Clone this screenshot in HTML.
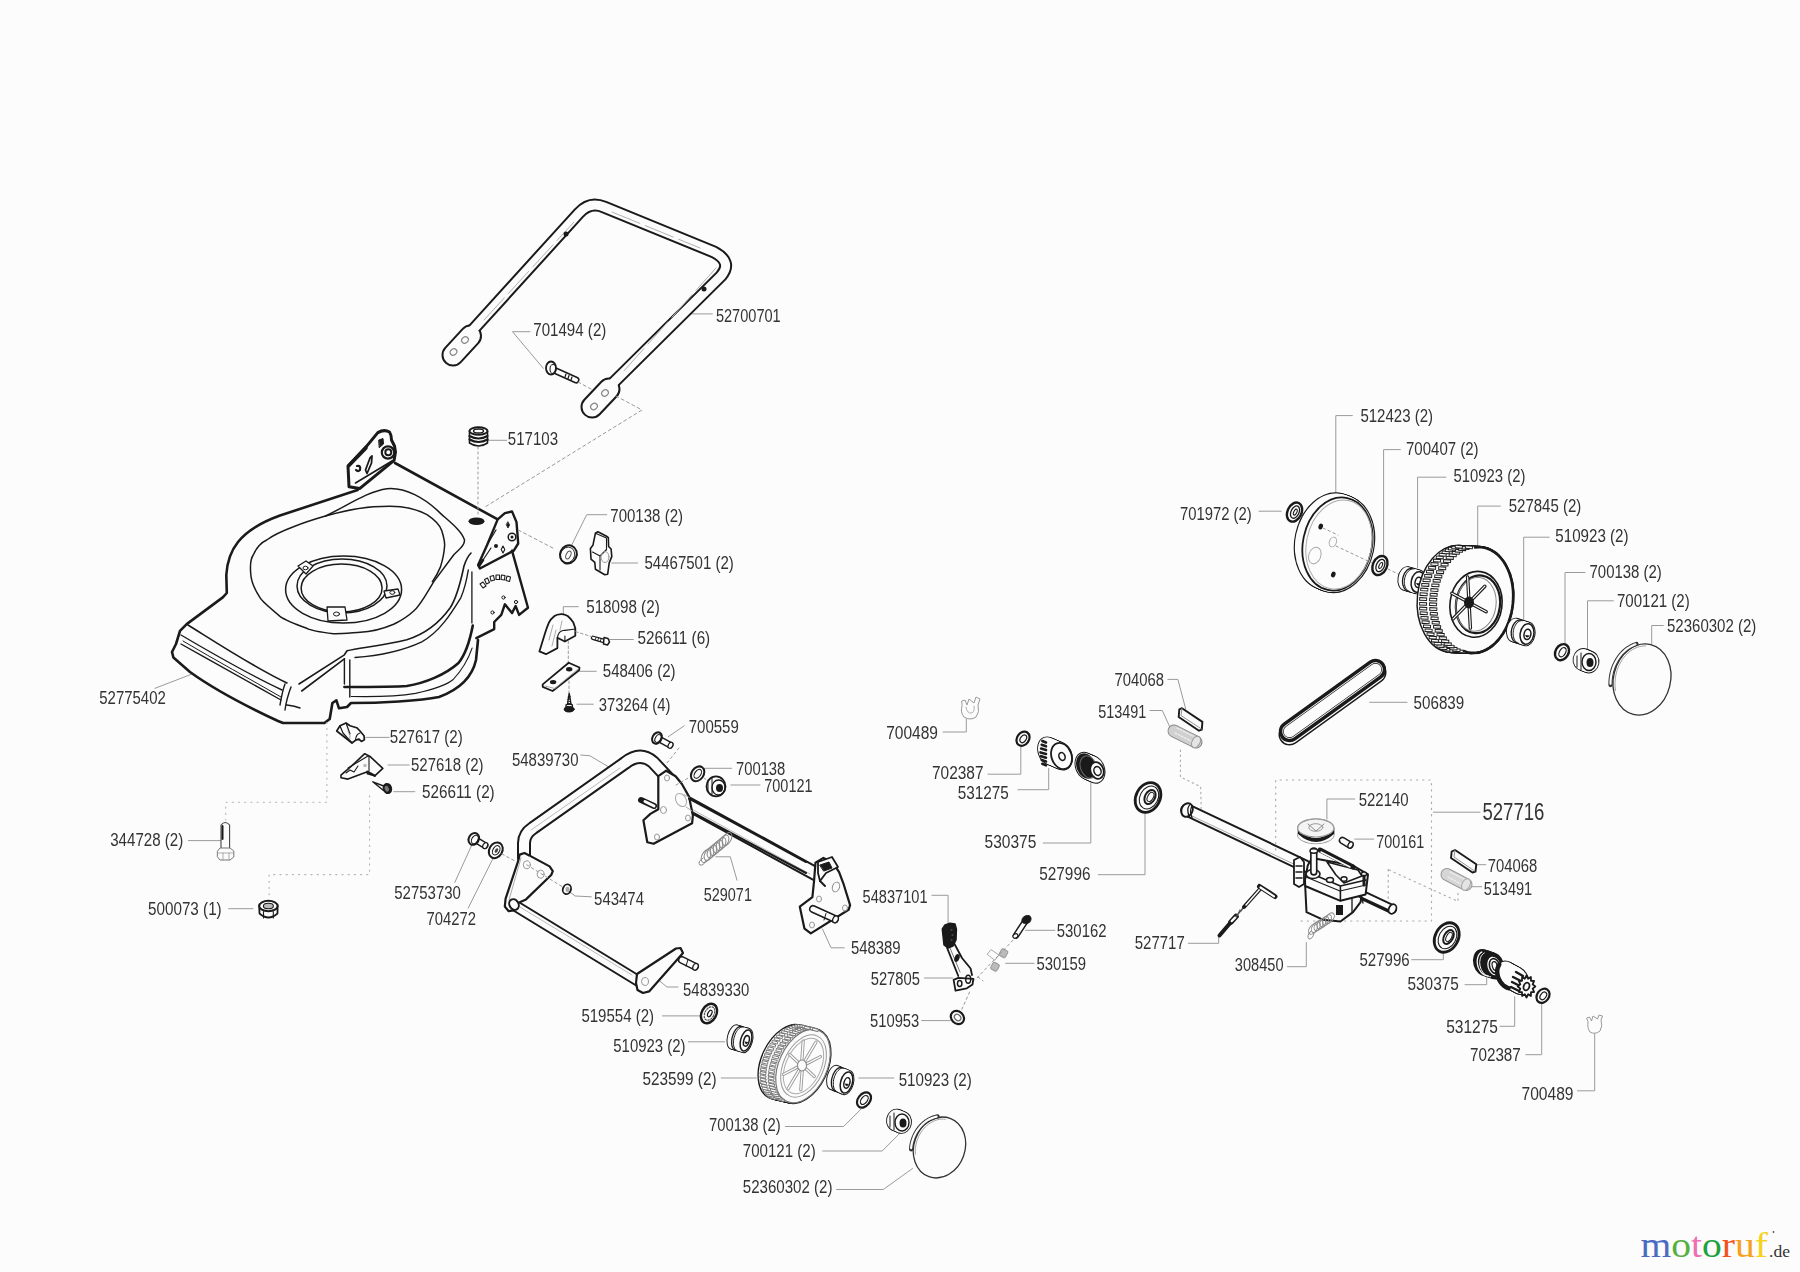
<!DOCTYPE html>
<html><head><meta charset="utf-8"><style>
html,body{margin:0;padding:0;background:#fcfcfc;}
svg{display:block;}
</style></head><body>
<svg width="1800" height="1272" viewBox="0 0 1800 1272" stroke-linejoin="round" stroke-linecap="round">
<rect width="1800" height="1272" fill="#fcfcfc"/>
<g fill="none" stroke="#9a9a9a" stroke-width="1">
<polyline points="686.3,313.9 712.3,313.9"/>
<polyline points="530.0,331.7 512.5,331.7 543.3,368.3"/>
<polyline points="488.3,440.3 506.7,440.3"/>
<polyline points="571.7,545.0 586.7,514.7 606.7,514.7"/>
<polyline points="611.7,563.0 637.5,563.0"/>
<polyline points="578.3,606.7 563.3,606.7 563.3,615.0"/>
<polyline points="609.2,639.5 633.3,639.5"/>
<polyline points="579.7,671.3 596.3,671.3"/>
<polyline points="577.0,704.2 593.3,704.2"/>
<polyline points="668.3,736.7 684.2,725.8"/>
<polyline points="580.8,755.0 590.0,755.8 608.3,766.7"/>
<polyline points="704.2,768.3 731.7,768.3"/>
<polyline points="730.8,785.0 760.0,785.0"/>
<polyline points="155.0,688.3 191.1,674.4"/>
<polyline points="365.8,737.4 389.2,737.4"/>
<polyline points="388.1,765.0 409.2,765.0"/>
<polyline points="393.7,791.7 414.8,791.7"/>
<polyline points="188.5,840.6 221.2,840.6"/>
<polyline points="228.6,908.7 253.0,908.7"/>
<polyline points="454.8,882.4 471.5,845.7"/>
<polyline points="468.2,908.0 492.7,859.0"/>
<polyline points="569.0,891.3 575.0,896.0 591.3,896.8"/>
<polyline points="737.0,880.2 730.3,856.8 715.8,856.8"/>
<polyline points="653.5,975.8 666.9,987.0 678.0,987.0"/>
<polyline points="662.4,1015.9 700.3,1015.9"/>
<polyline points="688.5,1041.8 724.7,1041.8"/>
<polyline points="721.2,1078.0 756.2,1078.0"/>
<polyline points="858.8,1078.0 893.8,1078.0"/>
<polyline points="785.3,1126.5 843.6,1126.5 861.1,1109.0"/>
<polyline points="822.7,1151.0 882.2,1151.0 899.6,1133.5"/>
<polyline points="836.6,1189.5 883.3,1189.5 912.5,1168.5"/>
<polyline points="921.7,1020.6 950.0,1020.6"/>
<polyline points="932.0,895.3 948.1,895.3 948.1,924.2"/>
<polyline points="822.5,929.0 831.0,947.8 844.2,947.8"/>
<polyline points="924.5,978.0 952.8,978.0"/>
<polyline points="1025.6,930.3 1054.8,930.3"/>
<polyline points="1005.7,963.3 1034.1,963.3"/>
<polyline points="1098.3,874.7 1145.0,874.7 1145.0,812.5"/>
<polyline points="1043.3,843.0 1090.8,843.0 1090.8,781.7"/>
<polyline points="1018.0,789.7 1048.7,789.7 1048.7,768.3"/>
<polyline points="988.0,774.2 1020.8,774.2 1020.8,745.8"/>
<polyline points="943.0,732.0 966.3,732.0 966.3,719.2"/>
<polyline points="1167.9,679.4 1177.9,679.4 1185.7,709.0"/>
<polyline points="1150.0,710.5 1162.3,710.5 1171.2,730.0"/>
<polyline points="1369.6,702.3 1407.0,702.3"/>
<polyline points="1354.7,799.0 1326.9,799.0 1326.9,819.0"/>
<polyline points="1354.7,839.1 1373.6,839.1"/>
<polyline points="1433.3,812.2 1480.0,812.2"/>
<polyline points="1476.3,864.7 1485.8,864.7"/>
<polyline points="1470.0,886.7 1481.7,886.7"/>
<polyline points="1188.3,943.3 1218.7,943.3 1218.7,936.7"/>
<polyline points="1287.5,966.7 1306.3,966.7 1306.3,942.5"/>
<polyline points="1411.7,959.7 1443.3,959.7 1443.3,953.3"/>
<polyline points="1465.0,984.7 1486.7,984.7 1486.7,976.7"/>
<polyline points="1500.0,1026.3 1514.7,1026.3 1514.7,996.7"/>
<polyline points="1525.8,1054.7 1541.7,1054.7 1541.7,1003.3"/>
<polyline points="1577.5,1090.8 1594.7,1090.8 1594.7,1034.2"/>
<polyline points="1352.4,415.6 1335.8,415.6 1335.8,494.6"/>
<polyline points="1400.3,449.6 1383.6,449.6 1383.6,554.6"/>
<polyline points="1445.9,477.2 1417.6,477.2 1417.6,568.0"/>
<polyline points="1500.4,506.1 1477.7,506.1 1477.7,548.0"/>
<polyline points="1549.2,537.2 1523.7,537.2 1523.7,620.0"/>
<polyline points="1585.0,572.5 1565.0,572.5 1565.0,644.2"/>
<polyline points="1613.3,600.8 1587.5,600.8 1587.5,651.7"/>
<polyline points="1663.3,625.5 1651.7,625.5 1651.7,644.2"/>
<polyline points="1259.0,511.2 1281.2,511.2"/>
</g>
<g id="handle" fill="none" stroke-linejoin="round" stroke-linecap="round">
 <path d="M 470 333 L 579 213 Q 590 201 604 207 L 714 252 Q 733 262 721 276 L 612 384" stroke="#1a1a1a" stroke-width="13"/>
 <path d="M 470.5 336 L 453 355" stroke="#1a1a1a" stroke-width="23"/>
 <path d="M 609 389 L 592 407" stroke="#1a1a1a" stroke-width="23"/>
 <path d="M 470 333 L 579 213 Q 590 201 604 207 L 714 252 Q 733 262 721 276 L 612 384" stroke="#fcfcfc" stroke-width="9"/>
 <path d="M 470.5 336 L 453 355" stroke="#fcfcfc" stroke-width="19"/>
 <path d="M 609 389 L 592 407" stroke="#fcfcfc" stroke-width="19"/>
 <path d="M 484 320 L 574 222 M 612 212 L 700 248 M 716 268 L 623 372" stroke="#b0b0b0" stroke-width="1" stroke-dasharray="30 6"/>
 <g stroke="#888" stroke-width="1.2">
  <ellipse cx="465" cy="340" rx="3.5" ry="3" transform="rotate(-40 465 340)"/>
  <ellipse cx="453.5" cy="352" rx="3.5" ry="3" transform="rotate(-40 453.5 352)"/>
  <ellipse cx="605" cy="393" rx="3.5" ry="3" transform="rotate(-40 605 393)"/>
  <ellipse cx="594" cy="406.5" rx="3.5" ry="3" transform="rotate(-40 594 406.5)"/>
 </g>
 <circle cx="566" cy="234" r="2.5" fill="#1a1a1a"/>
 <circle cx="704" cy="289" r="2.5" fill="#1a1a1a"/>
 <!-- bolt 701494 -->
 <path d="M 556 371 L 576 380" stroke="#1a1a1a" stroke-width="7"/>
 <path d="M 556 371 L 576 380" stroke="#fcfcfc" stroke-width="4"/>
 <path d="M 566 374 l -1 3 M 569 375.5 l -1 3 M 572 377 l -1 3" stroke="#1a1a1a" stroke-width="1.2"/>
 <ellipse cx="551" cy="368" rx="5" ry="6.5" fill="#fcfcfc" stroke="#1a1a1a" stroke-width="1.8"/>
 <ellipse cx="553" cy="369" rx="3" ry="4.5" fill="none" stroke="#1a1a1a" stroke-width="1"/>
 <g stroke="#999" stroke-width="1" stroke-dasharray="3 3">
  <path d="M 578 382 L 591 389 M 616 396 L 642 410 L 485 507"/>
 </g>
</g>

<g id="deck" fill="none" stroke="#1a1a1a" stroke-linejoin="round" stroke-linecap="round">
 <!-- outer thick outline: top-left edge, left side, front -->
 <path stroke-width="2.6" d="M 357.6 490 L 280 515.5 C 262 522 246 532 238 542 C 230 552 227 563 226.3 575 L 226.8 593 L 222.8 597.4 L 186.7 624.1 L 180 630.8 L 176 644 L 172 652 L 173.4 657.5 L 190 672 C 215 690 250 708 278 721 L 283 723 L 324.4 723 L 329.7 719 L 332.4 703 L 336.4 700.3 L 339 708.3 L 347 707 L 351 703 C 380 703 420 701 439 697 C 458 690 472 678 476 660 L 478 640"/>
 <!-- front lip lines -->
 <path stroke-width="1.6" d="M 188 625 C 220 645 255 668 287 683"/>
 <path stroke-width="1.4" d="M 181 635 C 215 655 250 675 282 690"/>
 <path stroke-width="1.4" d="M 181 644 C 215 663 250 683 281 700"/>
 <path stroke-width="1" d="M 183 641 C 215 660 250 679 281 697"/>
 <path stroke-width="1.4" d="M 285 684 C 282 692 281 700 280 705 M 291 687 C 288 695 286 702 285 710 M 287 705 Q 295 706 300 708"/>
 <!-- right front skirt -->
 <path stroke-width="1.6" d="M 299 684 L 344.4 654.8 L 347 650.8 C 360 648 385 645 406.8 639.8 C 425 634 440 622 450 608 C 458 596 462 575 464 566 C 466 560 468 556 471 553"/>
 <path stroke-width="1.6" d="M 301.7 691 L 344.4 658.8"/>
 <path stroke-width="1.4" d="M 344.4 658.8 L 344.4 684 M 349.8 660 L 349.8 697"/>
 <path stroke-width="2.6" d="M 344.4 687 C 370 687 395 687 406.8 686 C 425 683 445 675 458.5 663 C 466 654 470 640 472.8 625.6"/>
 <path stroke-width="1.4" d="M 355 657.5 C 375 656 400 652 421.8 641.8 C 440 632 452 612 460.8 597.8 C 465 588 467 578 468.3 570"/>
 <path stroke-width="1.1" d="M 351.3 696.5 C 375 697 400 696 415.5 693.4 C 435 689 448 684 453.2 679.5 C 462 670 468 660 472.1 648.1"/>
 <!-- inner volute contour -->
 <path stroke-width="1.5" d="M 325.5 516 C 345 507 368 491 387 488.7 C 405 487 425 498 440.5 513.4 C 450 522 462 531 464.5 540 C 465 546 458 550 453.8 554.8 L 433.8 581.6 C 425 596 420 606 413.7 611 C 405 619 398 622 393.7 624.3 C 380 630 370 632 360.3 632.3 C 350 633 340 634 333.5 633.7 C 320 632 310 630 306.8 628.3 C 295 624 285 620 280 616.3 C 270 608 262 601 260 597.6 C 255 590 251 580 250.7 573.5 C 250 565 251 558 253.4 554.8 C 256 548 262 542 266.7 540 C 275 534 285 530 293.5 526.8 C 305 522 315 519 325.5 516"/>
 <path stroke-width="1.5" d="M 325.5 516 C 340 512 355 508 373.6 506.7 C 385 506 395 506 400.4 506.7 C 412 508 420 511 427 514.7 C 435 520 440 525 441.8 530.8 C 444 538 445 544 444.5 546.8 C 444 555 442 562 440.5 566.9 C 438 573 435 578 432.4 581.6"/>
 <!-- top-right edge of deck -->
 <path stroke-width="2.6" d="M 395 463 L 497.7 519.4"/>
 <!-- ring -->
 <ellipse cx="343.6" cy="589.6" rx="58" ry="33.5" stroke-width="1.5"/>
 <ellipse cx="342" cy="586" rx="45" ry="27" stroke-width="1.5"/>
 <ellipse cx="341.6" cy="588" rx="40.5" ry="24" stroke-width="1.5"/>
 <g stroke-width="1.3" fill="#fcfcfc">
  <path d="M 298 566 L 306 561 L 313 566 L 306 574 Z"/>
  <path d="M 384 591 L 398 589 L 400 595 L 386 598 Z"/>
  <path d="M 327 607 L 345 607 L 347 620 L 328 621 Z"/>
 </g>
 <g fill="none" stroke-width="1">
  <ellipse cx="305.5" cy="568" rx="2.5" ry="1.8"/>
  <ellipse cx="392.3" cy="592.5" rx="2.5" ry="1.8"/>
  <ellipse cx="336.5" cy="614" rx="3" ry="2"/>
 </g>
 <!-- left rear bracket -->
 <path stroke-width="3" fill="#fcfcfc" d="M 348 466 L 366.5 446.4 L 377.8 432.6 Q 384 429 389.5 432 Q 391.5 435 391.5 440 L 394.5 446 L 395.5 452 L 394.1 460.3 L 359.6 488.6 L 349 486.7 Z"/>
 <path stroke-width="1.6" d="M 355.5 483 L 392 461"/>
 <circle cx="388" cy="452.5" r="6.2" stroke-width="2.2" fill="#fcfcfc"/>
 <circle cx="388.3" cy="452.2" r="3" stroke-width="2" fill="none"/>
 <path d="M 379 440 L 383 438.5 L 383.5 444 L 379.5 447.5 Z" fill="#1a1a1a" stroke-width="1"/>
 <path d="M 370 458 L 372 456 L 371.5 463 L 367 473.5 L 365.5 470 Z" fill="#fcfcfc" stroke-width="1.8"/>
 <path d="M 357 466 Q 361 465 360 470 Q 358 472 356 470" stroke-width="2.2"/>
 <path stroke-width="3.4" d="M 349 465.5 L 366 448"/>
<!-- right rear bracket -->
 <path stroke-width="2.4" fill="#fcfcfc" d="M 497.7 519.4 L 504.9 513.2 L 512 511.4 L 516.5 522.1 L 518.2 543.5 L 513.8 550.6 L 479.9 568.5 L 478.1 564.9 L 487 545.3 Z"/>
 <path stroke-width="2.4" d="M 512 550.6 L 528 607.7 L 519.1 614.9 L 515.6 606 L 512 613.1 L 504.9 604.2 L 501.3 614.9 L 494.2 622 L 494.2 629.1 L 476.3 638.1"/>
 <path stroke-width="1.3" d="M 471.9 572 L 471.9 622.9"/>
 <path stroke-width="1.2" d="M 487 545 L 496 530 M 483 560 L 491 548"/>
 <circle cx="512" cy="537" r="3.8" stroke-width="1.5"/>
 <circle cx="512" cy="537" r="1.5" fill="#1a1a1a" stroke="none"/>
 <path d="M 508 522 l 1.6 3 l -1.6 3 l -1.6 -3 Z" fill="#1a1a1a" stroke-width="0.8"/>
 <circle cx="496" cy="546" r="2" fill="#1a1a1a" stroke="none"/>
 <path d="M 503 546 l 1.8 3.5 l -1.8 3.5 l -1.8 -3.5 Z" stroke-width="1.1"/>
 <path stroke-width="2.6" d="M 479 566 L 483 560"/>
 <!-- scale teeth -->
 <g stroke-width="1.1" fill="#fcfcfc">
  <path d="M 483 588 l -3 -4 l 3 -2 l 3 4 Z"/>
  <path d="M 486.5 584 l -2 -4.5 l 3 -1.5 l 2 4.5 Z"/>
  <path d="M 491 581 l -1 -4.5 l 3.5 -1 l 1 4.5 Z"/>
  <path d="M 496 579.5 l 0 -4.5 l 3.5 0 l 0 4.5 Z"/>
  <path d="M 501 579.5 l 0.5 -4.5 l 3.5 0.5 l -0.5 4.5 Z"/>
  <path d="M 506 580.5 l 1 -4.5 l 3.5 1 l -1 4.5 Z"/>
 </g>
 <circle cx="503.5" cy="597.5" r="1.6" stroke-width="1"/>
 <circle cx="492.5" cy="612.5" r="1.6" stroke-width="1"/>
 <circle cx="516" cy="602" r="1.6" stroke-width="1"/>
 <!-- black hole -->
 <ellipse cx="476.5" cy="521.2" rx="8" ry="3.8" fill="#1a1a1a" stroke="none"/>
 <!-- dotted guide -->
 <path d="M 478 447 L 478 515" stroke="#999" stroke-width="1" stroke-dasharray="2 3"/>
 <path d="M 518.3 530 L 553.3 548.3" stroke="#999" stroke-width="1" stroke-dasharray="3 3"/>
</g>

<g id="deckparts" fill="none" stroke="#1a1a1a" stroke-linejoin="round" stroke-linecap="round">
 <!-- 517103 grommet -->
 <path d="M 469.5 431 L 469.5 443 Q 478.5 449 487.5 443 L 487.5 431" fill="#fcfcfc" stroke-width="1.6"/>
 <ellipse cx="478.5" cy="431" rx="9" ry="3.8" fill="#fcfcfc" stroke-width="2"/>
 <ellipse cx="478.5" cy="431" rx="5" ry="2" stroke-width="1.3"/>
 <path d="M 469.5 436 Q 478.5 441 487.5 436 M 469.5 439.5 Q 478.5 444.5 487.5 439.5" stroke-width="2.2"/>
 <!-- 700138 washer -->
 <ellipse cx="568.4" cy="554.4" rx="8.3" ry="9.2" transform="rotate(25 568.4 554.4)" fill="#fcfcfc" stroke-width="2"/>
 <ellipse cx="567.6" cy="555" rx="7" ry="8" transform="rotate(25 567.6 555)" stroke-width="0.8"/>
 <ellipse cx="568.4" cy="555" rx="2.2" ry="4.2" transform="rotate(25 568.4 555)" stroke-width="1" stroke="#555"/>
 <!-- 54467501 knob -->
 <path d="M 595.4 533.3 L 597.9 531.8 L 607 536.5 L 608.3 537.7 L 608.6 546.5 L 611.1 549 L 611.8 556.6 L 609.2 562.9 L 607.7 574.2 L 604.8 574.8 L 595.4 569.2 L 594.8 562.3 L 591 559.1 L 590.4 548.4 L 592.9 545.3 Z" fill="#fcfcfc" stroke-width="1.6"/>
 <path d="M 595.4 533.3 L 606.5 538 L 606.5 550 M 592.5 552 L 600 556 L 606 550 M 600 556 L 600 570" stroke-width="1.1"/>
 <ellipse cx="605" cy="557" rx="4" ry="5.5" stroke="#999" stroke-width="1"/>
 <!-- 518098 clip -->
 <path d="M 539.4 651.4 L 546 654.2 L 557.4 648.1 L 557.4 637.7 L 564.9 641.5 L 575.3 635.8 L 575.3 628.3 L 573.4 622.6 C 571 619 569 617 567.7 616 C 565 614.5 563 614 561.1 614.2 C 558 614.5 556 615 554.5 616 C 552 618 550 620 548.9 622.6 C 547 627 546 630 545.1 633 Z" fill="#fcfcfc" stroke-width="1.8"/>
 <path d="M 557.4 637.7 C 558 634 560 631 563 630.5 C 567 630 571 630 575 629 M 564.9 641.5 L 564.9 636" stroke-width="1.1"/>
 <path d="M 549 640 L 553 625 M 552 646 L 556 630 M 562 621 L 560 630" stroke="#aaa" stroke-width="1"/>
 <!-- 526611 screw (6) -->
 <path d="M 593 637.8 L 604 641" stroke-width="4.5"/>
 <path d="M 593 637.8 L 604 641" stroke="#fcfcfc" stroke-width="2"/>
 <path d="M 596 637.5 l -0.8 2.5 M 598.5 638.3 l -0.8 2.5 M 601 639 l -0.8 2.5" stroke-width="0.9"/>
 <path d="M 604 637.5 L 608 638.5 L 609.5 642 L 607.5 645 L 603.5 644 Z" fill="#fcfcfc" stroke-width="1.5"/>
 <path d="M 575.8 631.7 L 592 636.7" stroke="#999" stroke-width="1" stroke-dasharray="2.5 2.5"/>
 <path d="M 568.3 641 L 568.3 663 M 569 671 L 569 693" stroke="#999" stroke-width="1" stroke-dasharray="2.5 2.5"/>
 <!-- 548406 plate -->
 <path d="M 542.7 684.4 L 568.7 662.7 L 579.5 667.5 L 579.1 670.3 L 552.6 691 L 542.7 686.8 Z" fill="#fcfcfc" stroke-width="1.8"/>
 <path d="M 545 686 L 555 688.5 L 578 669" stroke="#999" stroke-width="0.9"/>
 <ellipse cx="569.2" cy="669.3" rx="3.2" ry="2.2" fill="#1a1a1a" stroke="none"/>
 <ellipse cx="553.1" cy="682.1" rx="3.2" ry="2.2" fill="#1a1a1a" stroke="none"/>
 <!-- 373264 screw -->
 <path d="M 569.2 693.4 L 571 704 L 567.5 704 Z" fill="#fcfcfc" stroke-width="1.4"/>
 <path d="M 568 697 l 2.4 -0.6 M 567.8 699.5 l 2.8 -0.6 M 567.6 702 l 3 -0.6" stroke-width="0.9"/>
 <ellipse cx="569.2" cy="709.2" rx="5" ry="2.8" fill="#1a1a1a" stroke-width="1"/>
 <path d="M 566 705 L 566 708 M 572.4 705 L 572.4 708 M 566 705 Q 569.2 703 572.4 705" stroke-width="1.3"/>
</g>

<g id="leftsmall" fill="none" stroke="#1a1a1a" stroke-linejoin="round" stroke-linecap="round">
 <!-- 527617 -->
 <path d="M 336.7 731 L 340 725.7 L 346 723 L 350 725.7 L 356.7 727.7 L 360 731 L 364 735.7 L 364.4 739.7 L 361.4 741.4 L 358.7 739 L 355.4 740.4 L 352 743 Z" fill="#fcfcfc" stroke-width="1.7"/>
 <path d="M 340 726 L 343 733 L 352 743 M 346 723 L 350 734 M 355.4 740.4 Q 356 734 360 733" stroke-width="1.2"/>
 <path d="M 348 731 Q 351 736 350 739" stroke="#999" stroke-width="0.9"/>
 <!-- 527618 -->
 <path d="M 341 775.1 L 344.7 771.8 L 349.4 767.8 L 354.7 763.1 L 364.7 753.7 L 370 756.4 L 382.8 768.4 L 374.8 775.8 L 367.4 773.8 L 367.4 771.8 L 348 779.1 L 341 777.8 Z" fill="#fcfcfc" stroke-width="1.6"/>
 <path d="M 348 768 L 368 756 M 346 773 L 350 770 L 354 772 L 358 766 M 369 756 L 369 771" stroke-width="1.1"/>
 <path d="M 367.4 771.8 L 374.8 775.8" stroke-width="2.4"/>
 <circle cx="365" cy="765.5" r="1.8" fill="#bbb" stroke="none"/>
 <!-- 526611 (2) screw -->
 <path d="M 372.8 781.8 L 385 786.5 L 383.5 790.5 Z" fill="#fcfcfc" stroke-width="1.4"/>
 <ellipse cx="387.4" cy="788.5" rx="4.2" ry="5.2" transform="rotate(-20 387.4 788.5)" fill="#1a1a1a" stroke-width="1"/>
 <ellipse cx="386.8" cy="788.7" rx="2" ry="3" transform="rotate(-20 386.8 788.7)" fill="#777" stroke="none"/>
 <!-- 344728 bolt -->
 <path d="M 221 849 L 221 825 Q 225.3 820 229.6 825 L 229.6 849" fill="#fcfcfc" stroke="#444" stroke-width="1.1"/>
 <path d="M 222.5 826 L 222.5 839" stroke="#1a1a1a" stroke-width="2"/>
 <path d="M 217.6 851 L 220 848 L 230 848 L 233.8 851 L 233.8 857 L 230 860 L 220 860 L 217.6 857 Z" fill="#fcfcfc" stroke="#777" stroke-width="1"/>
 <path d="M 217.6 853 L 233.8 853 M 223 853 L 223 860 M 229 853 L 229 860" stroke="#999" stroke-width="0.8"/>
 <!-- 500073 nut -->
 <path d="M 259.2 906 L 259.5 913.5 Q 268.4 921.5 277.5 913.5 L 277.6 906" fill="#fcfcfc" stroke-width="1.8"/>
 <ellipse cx="268.4" cy="906" rx="9.2" ry="5.2" fill="#fcfcfc" stroke-width="2"/>
 <ellipse cx="268.4" cy="906" rx="5" ry="2.8" fill="#bbb" stroke-width="1.1"/>
 <path d="M 263.5 911.5 L 263.5 918 M 273.3 911.5 L 273.3 918" stroke-width="1.1"/>
 <!-- dotted guides -->
 <g stroke="#b5b5b5" stroke-width="1.1" stroke-dasharray="1.2 5">
  <path d="M 326.9 722.2 L 326.9 802.3 L 225.7 802.3 L 225.7 820"/>
  <path d="M 369.6 795.7 L 369.6 874.6 L 269.1 874.6 L 269.1 897"/>
 </g>
 <!-- 52753730 bolt -->
 <path d="M 476 840 L 485 845.5" stroke-width="7"/>
 <path d="M 476 840 L 485 845.5" stroke="#fcfcfc" stroke-width="4.2"/>
 <ellipse cx="485.2" cy="845.6" rx="2.2" ry="3.2" transform="rotate(30 485.2 845.6)" fill="#fcfcfc" stroke-width="1.2"/>
 <ellipse cx="473.8" cy="838.9" rx="5" ry="6.2" transform="rotate(30 473.8 838.9)" fill="#fcfcfc" stroke-width="2"/>
 <ellipse cx="474.8" cy="839.5" rx="3" ry="4.5" transform="rotate(30 474.8 839.5)" stroke-width="1.1"/>
 <!-- 704272 washer -->
 <ellipse cx="495.8" cy="850.3" rx="6.5" ry="8.3" transform="rotate(30 495.8 850.3)" fill="#fcfcfc" stroke-width="2"/>
 <ellipse cx="496.2" cy="850.3" rx="3.3" ry="5" transform="rotate(30 496.2 850.3)" stroke-width="1.1"/>
 <ellipse cx="496.4" cy="850.5" rx="1.4" ry="2.5" transform="rotate(30 496.4 850.5)" fill="#444" stroke="none"/>
 <path d="M 502 854 L 515 861" stroke="#999" stroke-width="1" stroke-dasharray="2.5 3"/>
</g>

<g id="frame" fill="none" stroke="#1a1a1a" stroke-linejoin="round" stroke-linecap="round">
 <!-- lower tube (behind plate) -->
 <path d="M 514 905 L 640 982" stroke="#1a1a1a" stroke-width="12"/>
 <path d="M 514 905 L 640 982" stroke="#fcfcfc" stroke-width="8"/>
 <path d="M 520 907 L 632 975" stroke="#bbb" stroke-width="1"/>
 <!-- upper tube -->
 <path d="M 524 858 L 524 843 Q 524 834 533 828 L 625 763 Q 640 751 653 762 L 668 778" stroke="#1a1a1a" stroke-width="14"/>
 <path d="M 524 858 L 524 843 Q 524 834 533 828 L 625 763 Q 640 751 653 762 L 668 778" stroke="#fcfcfc" stroke-width="10"/>
 <path d="M 531 830 L 620 768" stroke="#bbb" stroke-width="1"/>
 <!-- left plate -->
 <path d="M 519.7 854.6 L 524.5 853 L 529.2 855.4 L 549.6 866.4 L 552.8 871.1 L 551.2 875 L 526 899.4 L 518 903 L 513.5 910.4 L 508.7 911.2 L 504.8 906.5 L 505.6 898.6 L 518.2 860.9 Z" fill="#fcfcfc" stroke-width="2.2"/>
 <path d="M 521 858 L 509 900" stroke="#aaa" stroke-width="1"/>
 <ellipse cx="526.8" cy="864.8" rx="3.5" ry="4" stroke="#999" stroke-width="1"/>
 <ellipse cx="540.6" cy="874.2" rx="3.5" ry="4" stroke="#999" stroke-width="1"/>
 <path d="M 526.8 864.8 L 566 889" stroke="#999" stroke-width="1" stroke-dasharray="2.5 3"/>
 <!-- lower tube end cap -->
 <ellipse cx="514" cy="904.5" rx="4.5" ry="5.5" transform="rotate(-30 514 904.5)" fill="#fcfcfc" stroke-width="2"/>
 <!-- 543474 nut -->
 <ellipse cx="566.9" cy="889.2" rx="4" ry="5" transform="rotate(20 566.9 889.2)" fill="#fcfcfc" stroke-width="1.8"/>
 <ellipse cx="567.5" cy="889.5" rx="2" ry="2.8" fill="#aaa" stroke="none"/>
 <!-- lower right plate 54839330 -->
 <path d="M 637 974 L 676 948.5 L 680.5 948 L 683 953 L 649.1 991.4 L 643 993 L 637.5 990 L 636 983 Z" fill="#fcfcfc" stroke-width="2.2"/>
 <ellipse cx="645" cy="981.5" rx="3.5" ry="4" stroke="#999" stroke-width="1"/>
 <path d="M 682 960 L 695 966.5" stroke="#1a1a1a" stroke-width="8"/>
 <path d="M 682 960 L 695 966.5" stroke="#fcfcfc" stroke-width="5"/>
 <ellipse cx="695.5" cy="966.8" rx="2.5" ry="3.5" transform="rotate(25 695.5 966.8)" fill="#fcfcfc" stroke-width="1.3"/>
 <path d="M 688 959.5 L 686 966" stroke-width="1"/>
 <!-- axle -->
 <path d="M 681 800 L 816 874" stroke="#1a1a1a" stroke-width="15"/>
 <path d="M 681 800 L 816 874" stroke="#fcfcfc" stroke-width="11"/>
 <path d="M 686 806 L 810 874" stroke="#bbb" stroke-width="1"/>
 <!-- mid plate -->
 <path d="M 658.3 776.2 L 666.2 770.7 L 675.6 776.2 L 681.9 784 L 689 796.6 L 692.9 815.5 L 692.1 823.3 L 653.6 843.8 L 647.3 842.2 L 643.4 820.2 L 650.4 813.9 L 658.3 809.2 Z" fill="#fcfcfc" stroke-width="2.2"/>
 <ellipse cx="667" cy="778" rx="2.5" ry="3" stroke="#999" stroke-width="1"/>
 <ellipse cx="663.5" cy="810" rx="3" ry="3.5" stroke="#999" stroke-width="1"/>
 <ellipse cx="688" cy="818" rx="2.5" ry="3" stroke="#999" stroke-width="1"/>
 <ellipse cx="657" cy="837" rx="2.5" ry="3" stroke="#999" stroke-width="1"/>
 <ellipse cx="681" cy="800" rx="5" ry="7" transform="rotate(-30 681 800)" fill="none" stroke="#aaa" stroke-width="1"/>
 <path d="M 684 794.5 L 690 798 M 686 807 L 692 811" stroke="#aaa" stroke-width="1"/>
 <path d="M 689 798.5 L 806 862 M 692.5 812.5 L 806 873" stroke="#1a1a1a" stroke-width="2"/>
 <!-- pin on mid plate -->
 <path d="M 641 800 L 654 806" stroke="#1a1a1a" stroke-width="6"/>
 <path d="M 645 801.5 L 654 806" stroke="#fcfcfc" stroke-width="3"/>
 <!-- right plate -->
 <path d="M 815.5 862.6 L 823.4 857.9 L 832.8 862.6 L 839.1 872.1 L 843.8 884.7 L 850.1 905.1 L 848.6 909.8 L 810.8 933.4 L 804.5 928.7 L 799.8 906.7 L 812.4 897.2 L 814 881.5 Z" fill="#fcfcfc" stroke-width="2.2"/>
 <path d="M 818 862 L 832 857 L 838 867 L 826 873 L 820 881 L 818 873 Z" fill="#fcfcfc" stroke-width="1.8"/>
 <path d="M 820 865 L 829 862 L 832 868 L 824 871 Z" fill="#1a1a1a" stroke-width="1"/>
 <path d="M 820 881 L 825 886" stroke-width="2"/>
 <ellipse cx="836" cy="887" rx="3.5" ry="5" transform="rotate(20 836 887)" stroke="#888" stroke-width="1"/>
 <ellipse cx="819" cy="899" rx="2.5" ry="3" stroke="#999" stroke-width="1"/>
 <ellipse cx="845" cy="908" rx="2.5" ry="3" stroke="#999" stroke-width="1"/>
 <ellipse cx="812" cy="925" rx="2.5" ry="3" stroke="#999" stroke-width="1"/>
 <path d="M 813 909 L 835 919" stroke="#1a1a1a" stroke-width="8"/>
 <path d="M 813 909 L 835 919" stroke="#fcfcfc" stroke-width="5"/>
 <ellipse cx="835.5" cy="919.3" rx="2.6" ry="3.6" transform="rotate(25 835.5 919.3)" fill="#fcfcfc" stroke-width="1.3"/>
 <path d="M 826 913.5 L 824 920" stroke-width="1"/>
 <!-- spring 529071 -->
 <g stroke="#888" stroke-width="1">
  <ellipse cx="706" cy="856" rx="4" ry="7" transform="rotate(30 706 856)"/>
  <ellipse cx="709" cy="854" rx="4" ry="7" transform="rotate(30 709 854)"/>
  <ellipse cx="712" cy="851.5" rx="4" ry="7" transform="rotate(30 712 851.5)"/>
  <ellipse cx="715" cy="849" rx="4" ry="7" transform="rotate(30 715 849)"/>
  <ellipse cx="718" cy="846.5" rx="4" ry="7" transform="rotate(30 718 846.5)"/>
  <ellipse cx="721" cy="844" rx="4" ry="7" transform="rotate(30 721 844)"/>
  <ellipse cx="724" cy="841.5" rx="4" ry="7" transform="rotate(30 724 841.5)"/>
  <ellipse cx="727" cy="839" rx="4" ry="7" transform="rotate(30 727 839)"/>
  <path d="M 703 858 Q 697 862 700 865 Q 704 866 706 860"/>
 </g>
 <!-- 700559 bolt -->
 <path d="M 659 739 L 670 745" stroke="#1a1a1a" stroke-width="7"/>
 <path d="M 659 739 L 670 745" stroke="#fcfcfc" stroke-width="4.2"/>
 <ellipse cx="670.5" cy="745.3" rx="2.2" ry="3.2" transform="rotate(30 670.5 745.3)" fill="#fcfcfc" stroke-width="1.2"/>
 <ellipse cx="657" cy="738" rx="4.5" ry="6" transform="rotate(30 657 738)" fill="#fcfcfc" stroke-width="2"/>
 <ellipse cx="658" cy="738.5" rx="2.7" ry="4.2" transform="rotate(30 658 738.5)" stroke-width="1.1"/>
 <path d="M 679 748 L 667 763" stroke="#999" stroke-width="1" stroke-dasharray="2.5 3"/>
 <!-- 700138 washer -->
 <ellipse cx="697.6" cy="773.8" rx="6" ry="8" transform="rotate(35 697.6 773.8)" fill="#fcfcfc" stroke-width="2"/>
 <ellipse cx="697.8" cy="773.8" rx="3" ry="5" transform="rotate(35 697.8 773.8)" stroke-width="1.1"/>
 <!-- 700121 nut -->
 <ellipse cx="716" cy="786.4" rx="9.5" ry="10" fill="#fcfcfc" stroke-width="1.8"/>
 <ellipse cx="718.5" cy="787.5" rx="6.5" ry="7.5" stroke-width="1.3"/>
 <ellipse cx="719.5" cy="788" rx="3.5" ry="4" fill="#1a1a1a" stroke="none"/>
 <path d="M 708 780 L 708 792 M 712 778 L 712 794" stroke-width="1"/>
 <path d="M 676 785 L 690 777 M 704 778 L 708 781" stroke="#999" stroke-width="1" stroke-dasharray="2.5 3"/>
</g>

<g id="lever" fill="none" stroke="#1a1a1a" stroke-linejoin="round" stroke-linecap="round">
 <!-- lever arm -->
 <path d="M 947 947.7 L 958.3 976 M 954.5 944 L 962 958 L 970.6 968.5 L 972 975" stroke-width="1.8"/>
 <path d="M 950 948 L 960 972" stroke="#777" stroke-width="1"/>
 <ellipse cx="957" cy="958" rx="2.5" ry="4" transform="rotate(20 957 958)" fill="#1a1a1a" stroke="none"/>
 <path d="M 953.6 979.8 L 958.3 977.9 L 973.4 978.9 L 972.5 984.5 L 966.8 988.3 L 955.5 990.7 Z" fill="#fcfcfc" stroke-width="1.8"/>
 <ellipse cx="959.7" cy="983.6" rx="2.2" ry="3" stroke-width="1.5"/>
 <ellipse cx="968.2" cy="979.3" rx="2.5" ry="4" stroke-width="1.5"/>
 <!-- gear segment -->
 <path d="M 943 936 L 942.3 929 L 945 925 L 950 923.2 L 955 924 L 956.4 929 L 956 940 L 953 946 L 948 948 L 944 945 Z" fill="#1a1a1a" stroke-width="1.5"/>
 <path d="M 951 930 l 1 0 M 952 935 l 1 0 M 951 940 l 1 0" stroke="#888" stroke-width="0.8"/>
 <!-- 530162 bolt -->
 <path d="M 1016 935.5 L 1025.5 921" stroke-width="6.5"/>
 <path d="M 1016 935.5 L 1025.5 921" stroke="#fcfcfc" stroke-width="3.5"/>
 <ellipse cx="1015.4" cy="936" rx="2.6" ry="2" transform="rotate(-30 1015.4 936)" fill="#fcfcfc" stroke-width="1.2"/>
 <ellipse cx="1026.5" cy="919.6" rx="4.8" ry="3.8" transform="rotate(-30 1026.5 919.6)" fill="#1a1a1a" stroke-width="1"/>
 <!-- 530159 -->
 <path d="M 987.5 954 L 991 949.6 L 998.9 955 L 995 960 Z" stroke="#aaa" stroke-width="1"/>
 <g fill="#bbb" stroke="#999" stroke-width="1">
  <rect x="1000" y="949.5" width="7" height="7.5" rx="1.5" transform="rotate(30 1003.5 953.2)"/>
  <rect x="991.5" y="963" width="7" height="7.5" rx="1.5" transform="rotate(30 995 966.7)"/>
 </g>
 <!-- 510953 bearing -->
 <ellipse cx="957.4" cy="1017.5" rx="6" ry="7.2" transform="rotate(-45 957.4 1017.5)" fill="#fcfcfc" stroke-width="2.2"/>
 <ellipse cx="957.6" cy="1017.5" rx="2.8" ry="3.6" transform="rotate(-45 957.6 1017.5)" stroke="#666" stroke-width="1.2"/>
 <g stroke="#999" stroke-width="1" stroke-dasharray="2.5 3">
  <path d="M 1013 940.2 L 975 980"/>
  <path d="M 978 977 L 983 981"/>
  <path d="M 969.6 992 L 961.1 1011"/>
 </g>
</g>

<g id="frontwheel" fill="none" stroke="#1a1a1a" stroke-linejoin="round" stroke-linecap="round">
<ellipse cx="709" cy="1013.5" rx="7.3" ry="10.3" transform="rotate(28 709 1013.5)" fill="#fcfcfc" stroke-width="2.4"/>
<ellipse cx="709.5" cy="1013.5" rx="4.6" ry="7.2" transform="rotate(28 709.5 1013.5)" stroke="#555" stroke-width="1.2" stroke-dasharray="1.5 1.5"/>
<ellipse cx="709.8" cy="1013.5" rx="1.8" ry="3.5" transform="rotate(28 709.8 1013.5)" stroke-width="1.2"/>
<ellipse cx="734.0" cy="1037.0" rx="6" ry="12" transform="rotate(15 734.0 1037.0)" fill="none" stroke="#1a1a1a" stroke-width="1.9"/>
<ellipse cx="735.5" cy="1037.4" rx="6" ry="12" transform="rotate(15 735.5 1037.4)" fill="none" stroke="#1a1a1a" stroke-width="1.9"/>
<ellipse cx="737.0" cy="1037.9" rx="6" ry="12" transform="rotate(15 737.0 1037.9)" fill="none" stroke="#1a1a1a" stroke-width="1.9"/>
<ellipse cx="738.5" cy="1038.3" rx="6" ry="12" transform="rotate(15 738.5 1038.3)" fill="none" stroke="#1a1a1a" stroke-width="1.9"/>
<ellipse cx="740.0" cy="1038.8" rx="6" ry="12" transform="rotate(15 740.0 1038.8)" fill="none" stroke="#1a1a1a" stroke-width="1.9"/>
<ellipse cx="741.5" cy="1039.2" rx="6" ry="12" transform="rotate(15 741.5 1039.2)" fill="none" stroke="#1a1a1a" stroke-width="1.9"/>
<ellipse cx="743.0" cy="1039.6" rx="6" ry="12" transform="rotate(15 743.0 1039.6)" fill="none" stroke="#1a1a1a" stroke-width="1.9"/>
<ellipse cx="744.5" cy="1040.1" rx="6" ry="12" transform="rotate(15 744.5 1040.1)" fill="none" stroke="#1a1a1a" stroke-width="1.9"/>
<ellipse cx="746.0" cy="1040.5" rx="6" ry="12" transform="rotate(15 746.0 1040.5)" fill="none" stroke="#1a1a1a" stroke-width="1.9"/>
<ellipse cx="734.0" cy="1037.0" rx="6" ry="12" transform="rotate(15 734.0 1037.0)" fill="#fcfcfc" stroke="none"/>
<ellipse cx="735.5" cy="1037.4" rx="6" ry="12" transform="rotate(15 735.5 1037.4)" fill="#fcfcfc" stroke="none"/>
<ellipse cx="737.0" cy="1037.9" rx="6" ry="12" transform="rotate(15 737.0 1037.9)" fill="#fcfcfc" stroke="none"/>
<ellipse cx="738.5" cy="1038.3" rx="6" ry="12" transform="rotate(15 738.5 1038.3)" fill="#fcfcfc" stroke="none"/>
<ellipse cx="740.0" cy="1038.8" rx="6" ry="12" transform="rotate(15 740.0 1038.8)" fill="#fcfcfc" stroke="none"/>
<ellipse cx="741.5" cy="1039.2" rx="6" ry="12" transform="rotate(15 741.5 1039.2)" fill="#fcfcfc" stroke="none"/>
<ellipse cx="743.0" cy="1039.6" rx="6" ry="12" transform="rotate(15 743.0 1039.6)" fill="#fcfcfc" stroke="none"/>
<ellipse cx="744.5" cy="1040.1" rx="6" ry="12" transform="rotate(15 744.5 1040.1)" fill="#fcfcfc" stroke="none"/>
<ellipse cx="746.0" cy="1040.5" rx="6" ry="12" transform="rotate(15 746.0 1040.5)" fill="#fcfcfc" stroke="none"/>
<path d="M 735.1 1049.8 L 734.4 1049.5 L 733.7 1049.0 L 733.1 1048.3 L 732.6 1047.5 L 732.2 1046.5 L 731.9 1045.3 L 731.7 1044.0 L 731.6 1042.7 L 731.7 1041.2 L 731.8 1039.7 L 732.0 1038.2 L 732.4 1036.7 L 732.9 1035.2 L 733.4 1033.7 L 734.0 1032.4 L 734.7 1031.1 L 735.5 1029.9 L 736.3 1028.9 L 737.1 1028.1 L 738.0 1027.4 L 738.9 1026.9 L 739.7 1026.6 L 740.5 1026.5 L 741.3 1026.6" fill="none" stroke="#1a1a1a" stroke-width="1.3"/>
<path d="M 736.9 1050.3 L 736.2 1050.0 L 735.5 1049.5 L 734.9 1048.9 L 734.4 1048.0 L 734.0 1047.0 L 733.7 1045.8 L 733.5 1044.6 L 733.4 1043.2 L 733.5 1041.8 L 733.6 1040.2 L 733.8 1038.7 L 734.2 1037.2 L 734.7 1035.7 L 735.2 1034.2 L 735.8 1032.9 L 736.5 1031.6 L 737.3 1030.5 L 738.1 1029.5 L 738.9 1028.6 L 739.8 1027.9 L 740.7 1027.4 L 741.5 1027.2 L 742.3 1027.1 L 743.1 1027.2" fill="none" stroke="#1a1a1a" stroke-width="1.0"/>
<ellipse cx="746" cy="1040.5" rx="5.4" ry="10.8" transform="rotate(15 746 1040.5)" fill="#fcfcfc" stroke="#1a1a1a" stroke-width="1.5"/>
<ellipse cx="746.5" cy="1040.8" rx="2.7" ry="5.4" transform="rotate(15 746 1040.5)" fill="#fcfcfc" stroke="#1a1a1a" stroke-width="1.5"/>
<path d="M 744.4 1041.6 Q 746.0 1046.4 748.2 1042.1 Z" fill="#1a1a1a" stroke="none"/>
<ellipse cx="786.0" cy="1062.0" rx="24" ry="39" transform="rotate(25 786.0 1062.0)" fill="none" stroke="#1a1a1a" stroke-width="2.6"/>
<ellipse cx="787.1" cy="1062.2" rx="24" ry="39" transform="rotate(25 787.1 1062.2)" fill="none" stroke="#1a1a1a" stroke-width="2.6"/>
<ellipse cx="788.1" cy="1062.5" rx="24" ry="39" transform="rotate(25 788.1 1062.5)" fill="none" stroke="#1a1a1a" stroke-width="2.6"/>
<ellipse cx="789.2" cy="1062.8" rx="24" ry="39" transform="rotate(25 789.2 1062.8)" fill="none" stroke="#1a1a1a" stroke-width="2.6"/>
<ellipse cx="790.2" cy="1063.0" rx="24" ry="39" transform="rotate(25 790.2 1063.0)" fill="none" stroke="#1a1a1a" stroke-width="2.6"/>
<ellipse cx="791.3" cy="1063.2" rx="24" ry="39" transform="rotate(25 791.3 1063.2)" fill="none" stroke="#1a1a1a" stroke-width="2.6"/>
<ellipse cx="792.4" cy="1063.5" rx="24" ry="39" transform="rotate(25 792.4 1063.5)" fill="none" stroke="#1a1a1a" stroke-width="2.6"/>
<ellipse cx="793.4" cy="1063.8" rx="24" ry="39" transform="rotate(25 793.4 1063.8)" fill="none" stroke="#1a1a1a" stroke-width="2.6"/>
<ellipse cx="794.5" cy="1064.0" rx="24" ry="39" transform="rotate(25 794.5 1064.0)" fill="none" stroke="#1a1a1a" stroke-width="2.6"/>
<ellipse cx="795.6" cy="1064.2" rx="24" ry="39" transform="rotate(25 795.6 1064.2)" fill="none" stroke="#1a1a1a" stroke-width="2.6"/>
<ellipse cx="796.6" cy="1064.5" rx="24" ry="39" transform="rotate(25 796.6 1064.5)" fill="none" stroke="#1a1a1a" stroke-width="2.6"/>
<ellipse cx="797.7" cy="1064.8" rx="24" ry="39" transform="rotate(25 797.7 1064.8)" fill="none" stroke="#1a1a1a" stroke-width="2.6"/>
<ellipse cx="798.8" cy="1065.0" rx="24" ry="39" transform="rotate(25 798.8 1065.0)" fill="none" stroke="#1a1a1a" stroke-width="2.6"/>
<ellipse cx="799.8" cy="1065.2" rx="24" ry="39" transform="rotate(25 799.8 1065.2)" fill="none" stroke="#1a1a1a" stroke-width="2.6"/>
<ellipse cx="800.9" cy="1065.5" rx="24" ry="39" transform="rotate(25 800.9 1065.5)" fill="none" stroke="#1a1a1a" stroke-width="2.6"/>
<ellipse cx="801.9" cy="1065.8" rx="24" ry="39" transform="rotate(25 801.9 1065.8)" fill="none" stroke="#1a1a1a" stroke-width="2.6"/>
<ellipse cx="803.0" cy="1066.0" rx="24" ry="39" transform="rotate(25 803.0 1066.0)" fill="none" stroke="#1a1a1a" stroke-width="2.6"/>
<ellipse cx="786.0" cy="1062.0" rx="24" ry="39" transform="rotate(25 786.0 1062.0)" fill="#fcfcfc" stroke="none"/>
<ellipse cx="787.1" cy="1062.2" rx="24" ry="39" transform="rotate(25 787.1 1062.2)" fill="#fcfcfc" stroke="none"/>
<ellipse cx="788.1" cy="1062.5" rx="24" ry="39" transform="rotate(25 788.1 1062.5)" fill="#fcfcfc" stroke="none"/>
<ellipse cx="789.2" cy="1062.8" rx="24" ry="39" transform="rotate(25 789.2 1062.8)" fill="#fcfcfc" stroke="none"/>
<ellipse cx="790.2" cy="1063.0" rx="24" ry="39" transform="rotate(25 790.2 1063.0)" fill="#fcfcfc" stroke="none"/>
<ellipse cx="791.3" cy="1063.2" rx="24" ry="39" transform="rotate(25 791.3 1063.2)" fill="#fcfcfc" stroke="none"/>
<ellipse cx="792.4" cy="1063.5" rx="24" ry="39" transform="rotate(25 792.4 1063.5)" fill="#fcfcfc" stroke="none"/>
<ellipse cx="793.4" cy="1063.8" rx="24" ry="39" transform="rotate(25 793.4 1063.8)" fill="#fcfcfc" stroke="none"/>
<ellipse cx="794.5" cy="1064.0" rx="24" ry="39" transform="rotate(25 794.5 1064.0)" fill="#fcfcfc" stroke="none"/>
<ellipse cx="795.6" cy="1064.2" rx="24" ry="39" transform="rotate(25 795.6 1064.2)" fill="#fcfcfc" stroke="none"/>
<ellipse cx="796.6" cy="1064.5" rx="24" ry="39" transform="rotate(25 796.6 1064.5)" fill="#fcfcfc" stroke="none"/>
<ellipse cx="797.7" cy="1064.8" rx="24" ry="39" transform="rotate(25 797.7 1064.8)" fill="#fcfcfc" stroke="none"/>
<ellipse cx="798.8" cy="1065.0" rx="24" ry="39" transform="rotate(25 798.8 1065.0)" fill="#fcfcfc" stroke="none"/>
<ellipse cx="799.8" cy="1065.2" rx="24" ry="39" transform="rotate(25 799.8 1065.2)" fill="#fcfcfc" stroke="none"/>
<ellipse cx="800.9" cy="1065.5" rx="24" ry="39" transform="rotate(25 800.9 1065.5)" fill="#fcfcfc" stroke="none"/>
<ellipse cx="801.9" cy="1065.8" rx="24" ry="39" transform="rotate(25 801.9 1065.8)" fill="#fcfcfc" stroke="none"/>
<ellipse cx="803.0" cy="1066.0" rx="24" ry="39" transform="rotate(25 803.0 1066.0)" fill="#fcfcfc" stroke="none"/>
<ellipse cx="803" cy="1066" rx="24" ry="39" transform="rotate(25 803 1066)" stroke="#777" stroke-width="1.2"/>
<ellipse cx="803.5" cy="1066" rx="20" ry="33" transform="rotate(25 803.5 1066)" stroke="#999" stroke-width="1"/>
<ellipse cx="803.5" cy="1066" rx="17.5" ry="29.5" transform="rotate(25 803.5 1066)" stroke="#aaa" stroke-width="1"/>
<path d="M 0 0" />
<path d="M 0 0" />
<path d="M 784.4 1100.7 L 777.9 1099.1" stroke="#777" stroke-width="3.3" stroke-linecap="butt"/>
<path d="M 783.5 1100.4 L 778.8 1099.3" stroke="#fcfcfc" stroke-width="1.3" stroke-linecap="butt"/>
<path d="M 776.2 1098.7 L 769.8 1097.2" stroke="#777" stroke-width="3.3" stroke-linecap="butt"/>
<path d="M 775.4 1098.5 L 770.7 1097.4" stroke="#fcfcfc" stroke-width="1.3" stroke-linecap="butt"/>
<path d="M 782.4 1099.4 L 776.0 1097.9" stroke="#777" stroke-width="3.3" stroke-linecap="butt"/>
<path d="M 781.5 1099.2 L 776.8 1098.1" stroke="#fcfcfc" stroke-width="1.3" stroke-linecap="butt"/>
<path d="M 774.3 1097.5 L 767.8 1095.9" stroke="#777" stroke-width="3.3" stroke-linecap="butt"/>
<path d="M 773.4 1097.2 L 768.7 1096.1" stroke="#fcfcfc" stroke-width="1.3" stroke-linecap="butt"/>
<path d="M 780.6 1097.8 L 774.2 1096.3" stroke="#777" stroke-width="3.3" stroke-linecap="butt"/>
<path d="M 779.8 1097.6 L 775.0 1096.5" stroke="#fcfcfc" stroke-width="1.3" stroke-linecap="butt"/>
<path d="M 772.5 1095.9 L 766.0 1094.3" stroke="#777" stroke-width="3.3" stroke-linecap="butt"/>
<path d="M 771.6 1095.6 L 766.9 1094.5" stroke="#fcfcfc" stroke-width="1.3" stroke-linecap="butt"/>
<path d="M 779.0 1095.9 L 772.6 1094.4" stroke="#777" stroke-width="3.3" stroke-linecap="butt"/>
<path d="M 778.2 1095.7 L 773.4 1094.6" stroke="#fcfcfc" stroke-width="1.3" stroke-linecap="butt"/>
<path d="M 770.9 1094.0 L 764.4 1092.4" stroke="#777" stroke-width="3.3" stroke-linecap="butt"/>
<path d="M 770.0 1093.7 L 765.3 1092.6" stroke="#fcfcfc" stroke-width="1.3" stroke-linecap="butt"/>
<path d="M 777.6 1093.7 L 771.2 1092.2" stroke="#777" stroke-width="3.3" stroke-linecap="butt"/>
<path d="M 776.8 1093.5 L 772.1 1092.4" stroke="#fcfcfc" stroke-width="1.3" stroke-linecap="butt"/>
<path d="M 769.5 1091.8 L 763.0 1090.2" stroke="#777" stroke-width="3.3" stroke-linecap="butt"/>
<path d="M 768.6 1091.6 L 763.9 1090.4" stroke="#fcfcfc" stroke-width="1.3" stroke-linecap="butt"/>
<path d="M 776.5 1091.2 L 770.0 1089.7" stroke="#777" stroke-width="3.3" stroke-linecap="butt"/>
<path d="M 775.6 1091.0 L 770.9 1089.9" stroke="#fcfcfc" stroke-width="1.3" stroke-linecap="butt"/>
<path d="M 768.3 1089.3 L 761.9 1087.8" stroke="#777" stroke-width="3.3" stroke-linecap="butt"/>
<path d="M 767.5 1089.1 L 762.7 1088.0" stroke="#fcfcfc" stroke-width="1.3" stroke-linecap="butt"/>
<path d="M 775.6 1088.5 L 769.1 1087.0" stroke="#777" stroke-width="3.3" stroke-linecap="butt"/>
<path d="M 774.7 1088.3 L 770.0 1087.2" stroke="#fcfcfc" stroke-width="1.3" stroke-linecap="butt"/>
<path d="M 767.4 1086.6 L 761.0 1085.1" stroke="#777" stroke-width="3.3" stroke-linecap="butt"/>
<path d="M 766.5 1086.4 L 761.8 1085.3" stroke="#fcfcfc" stroke-width="1.3" stroke-linecap="butt"/>
<path d="M 774.9 1085.6 L 768.5 1084.1" stroke="#777" stroke-width="3.3" stroke-linecap="butt"/>
<path d="M 774.0 1085.4 L 769.3 1084.3" stroke="#fcfcfc" stroke-width="1.3" stroke-linecap="butt"/>
<path d="M 766.8 1083.7 L 760.3 1082.2" stroke="#777" stroke-width="3.3" stroke-linecap="butt"/>
<path d="M 765.9 1083.5 L 761.2 1082.4" stroke="#fcfcfc" stroke-width="1.3" stroke-linecap="butt"/>
<path d="M 774.5 1082.5 L 768.0 1081.0" stroke="#777" stroke-width="3.3" stroke-linecap="butt"/>
<path d="M 773.6 1082.3 L 768.9 1081.2" stroke="#fcfcfc" stroke-width="1.3" stroke-linecap="butt"/>
<path d="M 766.3 1080.6 L 759.9 1079.0" stroke="#777" stroke-width="3.3" stroke-linecap="butt"/>
<path d="M 765.5 1080.4 L 760.8 1079.2" stroke="#fcfcfc" stroke-width="1.3" stroke-linecap="butt"/>
<path d="M 774.4 1079.2 L 767.9 1077.7" stroke="#777" stroke-width="3.3" stroke-linecap="butt"/>
<path d="M 773.5 1079.0 L 768.8 1077.9" stroke="#fcfcfc" stroke-width="1.3" stroke-linecap="butt"/>
<path d="M 766.2 1077.3 L 759.7 1075.8" stroke="#777" stroke-width="3.3" stroke-linecap="butt"/>
<path d="M 765.3 1077.1 L 760.6 1076.0" stroke="#fcfcfc" stroke-width="1.3" stroke-linecap="butt"/>
<path d="M 774.5 1075.8 L 768.0 1074.3" stroke="#777" stroke-width="3.3" stroke-linecap="butt"/>
<path d="M 773.6 1075.6 L 768.9 1074.5" stroke="#fcfcfc" stroke-width="1.3" stroke-linecap="butt"/>
<path d="M 766.3 1073.9 L 759.8 1072.4" stroke="#777" stroke-width="3.3" stroke-linecap="butt"/>
<path d="M 765.4 1073.7 L 760.7 1072.6" stroke="#fcfcfc" stroke-width="1.3" stroke-linecap="butt"/>
<path d="M 774.8 1072.3 L 768.4 1070.8" stroke="#777" stroke-width="3.3" stroke-linecap="butt"/>
<path d="M 774.0 1072.1 L 769.2 1071.0" stroke="#fcfcfc" stroke-width="1.3" stroke-linecap="butt"/>
<path d="M 766.7 1070.4 L 760.2 1068.9" stroke="#777" stroke-width="3.3" stroke-linecap="butt"/>
<path d="M 765.8 1070.2 L 761.1 1069.1" stroke="#fcfcfc" stroke-width="1.3" stroke-linecap="butt"/>
<path d="M 775.5 1068.7 L 769.0 1067.2" stroke="#777" stroke-width="3.3" stroke-linecap="butt"/>
<path d="M 774.6 1068.5 L 769.9 1067.4" stroke="#fcfcfc" stroke-width="1.3" stroke-linecap="butt"/>
<path d="M 767.3 1066.8 L 760.8 1065.3" stroke="#777" stroke-width="3.3" stroke-linecap="butt"/>
<path d="M 766.4 1066.6 L 761.7 1065.5" stroke="#fcfcfc" stroke-width="1.3" stroke-linecap="butt"/>
<path d="M 776.3 1065.2 L 769.9 1063.6" stroke="#777" stroke-width="3.3" stroke-linecap="butt"/>
<path d="M 775.5 1065.0 L 770.7 1063.8" stroke="#fcfcfc" stroke-width="1.3" stroke-linecap="butt"/>
<path d="M 768.2 1063.2 L 761.7 1061.7" stroke="#777" stroke-width="3.3" stroke-linecap="butt"/>
<path d="M 767.3 1063.0 L 762.6 1061.9" stroke="#fcfcfc" stroke-width="1.3" stroke-linecap="butt"/>
<path d="M 777.4 1061.6 L 771.0 1060.1" stroke="#777" stroke-width="3.3" stroke-linecap="butt"/>
<path d="M 776.6 1061.4 L 771.9 1060.3" stroke="#fcfcfc" stroke-width="1.3" stroke-linecap="butt"/>
<path d="M 769.3 1059.7 L 762.8 1058.1" stroke="#777" stroke-width="3.3" stroke-linecap="butt"/>
<path d="M 768.4 1059.4 L 763.7 1058.3" stroke="#fcfcfc" stroke-width="1.3" stroke-linecap="butt"/>
<path d="M 778.8 1058.0 L 772.3 1056.5" stroke="#777" stroke-width="3.3" stroke-linecap="butt"/>
<path d="M 777.9 1057.8 L 773.2 1056.7" stroke="#fcfcfc" stroke-width="1.3" stroke-linecap="butt"/>
<path d="M 770.6 1056.1 L 764.2 1054.6" stroke="#777" stroke-width="3.3" stroke-linecap="butt"/>
<path d="M 769.8 1055.9 L 765.0 1054.8" stroke="#fcfcfc" stroke-width="1.3" stroke-linecap="butt"/>
<path d="M 780.4 1054.6 L 773.9 1053.0" stroke="#777" stroke-width="3.3" stroke-linecap="butt"/>
<path d="M 779.5 1054.3 L 774.8 1053.2" stroke="#fcfcfc" stroke-width="1.3" stroke-linecap="butt"/>
<path d="M 772.2 1052.6 L 765.7 1051.1" stroke="#777" stroke-width="3.3" stroke-linecap="butt"/>
<path d="M 771.3 1052.4 L 766.6 1051.3" stroke="#fcfcfc" stroke-width="1.3" stroke-linecap="butt"/>
<path d="M 782.1 1051.2 L 775.7 1049.7" stroke="#777" stroke-width="3.3" stroke-linecap="butt"/>
<path d="M 781.2 1051.0 L 776.5 1049.9" stroke="#fcfcfc" stroke-width="1.3" stroke-linecap="butt"/>
<path d="M 774.0 1049.3 L 767.5 1047.7" stroke="#777" stroke-width="3.3" stroke-linecap="butt"/>
<path d="M 773.1 1049.1 L 768.4 1048.0" stroke="#fcfcfc" stroke-width="1.3" stroke-linecap="butt"/>
<path d="M 784.1 1048.0 L 777.6 1046.4" stroke="#777" stroke-width="3.3" stroke-linecap="butt"/>
<path d="M 783.2 1047.8 L 778.5 1046.6" stroke="#fcfcfc" stroke-width="1.3" stroke-linecap="butt"/>
<path d="M 775.9 1046.0 L 769.5 1044.5" stroke="#777" stroke-width="3.3" stroke-linecap="butt"/>
<path d="M 775.0 1045.8 L 770.3 1044.7" stroke="#fcfcfc" stroke-width="1.3" stroke-linecap="butt"/>
<path d="M 786.2 1044.9 L 779.7 1043.4" stroke="#777" stroke-width="3.3" stroke-linecap="butt"/>
<path d="M 785.3 1044.7 L 780.6 1043.6" stroke="#fcfcfc" stroke-width="1.3" stroke-linecap="butt"/>
<path d="M 778.0 1043.0 L 771.6 1041.5" stroke="#777" stroke-width="3.3" stroke-linecap="butt"/>
<path d="M 777.2 1042.8 L 772.5 1041.7" stroke="#fcfcfc" stroke-width="1.3" stroke-linecap="butt"/>
<path d="M 788.5 1042.0 L 782.0 1040.5" stroke="#777" stroke-width="3.3" stroke-linecap="butt"/>
<path d="M 787.6 1041.8 L 782.9 1040.7" stroke="#fcfcfc" stroke-width="1.3" stroke-linecap="butt"/>
<path d="M 780.3 1040.1 L 773.9 1038.6" stroke="#777" stroke-width="3.3" stroke-linecap="butt"/>
<path d="M 779.4 1039.9 L 774.7 1038.8" stroke="#fcfcfc" stroke-width="1.3" stroke-linecap="butt"/>
<path d="M 790.9 1039.4 L 784.4 1037.9" stroke="#777" stroke-width="3.3" stroke-linecap="butt"/>
<path d="M 790.0 1039.2 L 785.3 1038.1" stroke="#fcfcfc" stroke-width="1.3" stroke-linecap="butt"/>
<path d="M 782.7 1037.5 L 776.2 1036.0" stroke="#777" stroke-width="3.3" stroke-linecap="butt"/>
<path d="M 781.8 1037.3 L 777.1 1036.2" stroke="#fcfcfc" stroke-width="1.3" stroke-linecap="butt"/>
<path d="M 793.4 1037.0 L 786.9 1035.5" stroke="#777" stroke-width="3.3" stroke-linecap="butt"/>
<path d="M 792.5 1036.8 L 787.8 1035.7" stroke="#fcfcfc" stroke-width="1.3" stroke-linecap="butt"/>
<path d="M 785.2 1035.1 L 778.7 1033.6" stroke="#777" stroke-width="3.3" stroke-linecap="butt"/>
<path d="M 784.3 1034.9 L 779.6 1033.8" stroke="#fcfcfc" stroke-width="1.3" stroke-linecap="butt"/>
<path d="M 795.9 1034.9 L 789.5 1033.4" stroke="#777" stroke-width="3.3" stroke-linecap="butt"/>
<path d="M 795.1 1034.7 L 790.4 1033.6" stroke="#fcfcfc" stroke-width="1.3" stroke-linecap="butt"/>
<path d="M 787.8 1033.0 L 781.3 1031.5" stroke="#777" stroke-width="3.3" stroke-linecap="butt"/>
<path d="M 786.9 1032.8 L 782.2 1031.7" stroke="#fcfcfc" stroke-width="1.3" stroke-linecap="butt"/>
<path d="M 798.6 1033.1 L 792.1 1031.6" stroke="#777" stroke-width="3.3" stroke-linecap="butt"/>
<path d="M 797.7 1032.9 L 793.0 1031.8" stroke="#fcfcfc" stroke-width="1.3" stroke-linecap="butt"/>
<path d="M 790.4 1031.2 L 784.0 1029.6" stroke="#777" stroke-width="3.3" stroke-linecap="butt"/>
<path d="M 789.5 1031.0 L 784.8 1029.9" stroke="#fcfcfc" stroke-width="1.3" stroke-linecap="butt"/>
<path d="M 801.2 1031.6 L 794.8 1030.1" stroke="#777" stroke-width="3.3" stroke-linecap="butt"/>
<path d="M 800.4 1031.4 L 795.7 1030.3" stroke="#fcfcfc" stroke-width="1.3" stroke-linecap="butt"/>
<path d="M 793.1 1029.7 L 786.6 1028.1" stroke="#777" stroke-width="3.3" stroke-linecap="butt"/>
<path d="M 792.2 1029.5 L 787.5 1028.3" stroke="#fcfcfc" stroke-width="1.3" stroke-linecap="butt"/>
<path d="M 803.9 1030.4 L 797.4 1028.9" stroke="#777" stroke-width="3.3" stroke-linecap="butt"/>
<path d="M 803.0 1030.2 L 798.3 1029.1" stroke="#fcfcfc" stroke-width="1.3" stroke-linecap="butt"/>
<path d="M 795.7 1028.5 L 789.3 1027.0" stroke="#777" stroke-width="3.3" stroke-linecap="butt"/>
<path d="M 794.9 1028.3 L 790.2 1027.2" stroke="#fcfcfc" stroke-width="1.3" stroke-linecap="butt"/>
<path d="M 806.5 1029.6 L 800.1 1028.0" stroke="#777" stroke-width="3.3" stroke-linecap="butt"/>
<path d="M 805.7 1029.4 L 801.0 1028.2" stroke="#fcfcfc" stroke-width="1.3" stroke-linecap="butt"/>
<path d="M 798.4 1027.6 L 791.9 1026.1" stroke="#777" stroke-width="3.3" stroke-linecap="butt"/>
<path d="M 797.5 1027.4 L 792.8 1026.3" stroke="#fcfcfc" stroke-width="1.3" stroke-linecap="butt"/>
<path d="M 809.1 1029.1 L 802.7 1027.5" stroke="#777" stroke-width="3.3" stroke-linecap="butt"/>
<path d="M 808.3 1028.9 L 803.6 1027.7" stroke="#fcfcfc" stroke-width="1.3" stroke-linecap="butt"/>
<path d="M 801.0 1027.1 L 794.5 1025.6" stroke="#777" stroke-width="3.3" stroke-linecap="butt"/>
<path d="M 800.1 1026.9 L 795.4 1025.8" stroke="#fcfcfc" stroke-width="1.3" stroke-linecap="butt"/>
<path d="M 811.7 1028.9 L 805.2 1027.4" stroke="#777" stroke-width="3.3" stroke-linecap="butt"/>
<path d="M 810.8 1028.7 L 806.1 1027.6" stroke="#fcfcfc" stroke-width="1.3" stroke-linecap="butt"/>
<path d="M 803.5 1027.0 L 797.0 1025.5" stroke="#777" stroke-width="3.3" stroke-linecap="butt"/>
<path d="M 802.6 1026.8 L 797.9 1025.7" stroke="#fcfcfc" stroke-width="1.3" stroke-linecap="butt"/>
<path d="M 814.1 1029.1 L 807.6 1027.6" stroke="#777" stroke-width="3.3" stroke-linecap="butt"/>
<path d="M 813.2 1028.9 L 808.5 1027.8" stroke="#fcfcfc" stroke-width="1.3" stroke-linecap="butt"/>
<path d="M 805.9 1027.2 L 799.5 1025.7" stroke="#777" stroke-width="3.3" stroke-linecap="butt"/>
<path d="M 805.1 1027.0 L 800.4 1025.9" stroke="#fcfcfc" stroke-width="1.3" stroke-linecap="butt"/>
<path d="M 816.4 1029.7 L 809.9 1028.1" stroke="#777" stroke-width="3.3" stroke-linecap="butt"/>
<path d="M 815.5 1029.5 L 810.8 1028.3" stroke="#fcfcfc" stroke-width="1.3" stroke-linecap="butt"/>
<path d="M 808.2 1027.7 L 801.8 1026.2" stroke="#777" stroke-width="3.3" stroke-linecap="butt"/>
<path d="M 807.4 1027.5 L 802.7 1026.4" stroke="#fcfcfc" stroke-width="1.3" stroke-linecap="butt"/>
<path d="M 818.6 1030.6 L 812.1 1029.0" stroke="#777" stroke-width="3.3" stroke-linecap="butt"/>
<path d="M 817.7 1030.3 L 813.0 1029.2" stroke="#fcfcfc" stroke-width="1.3" stroke-linecap="butt"/>
<path d="M 810.4 1028.6 L 804.0 1027.1" stroke="#777" stroke-width="3.3" stroke-linecap="butt"/>
<path d="M 809.5 1028.4 L 804.8 1027.3" stroke="#fcfcfc" stroke-width="1.3" stroke-linecap="butt"/>
<path d="M 805.2 1068.0 L 814.3 1076.5" stroke="#999" stroke-width="3.2"/>
<path d="M 805.2 1068.0 L 814.3 1076.5" stroke="#fcfcfc" stroke-width="1.4"/>
<path d="M 802.2 1070.6 L 800.8 1089.8" stroke="#999" stroke-width="3.2"/>
<path d="M 802.2 1070.6 L 800.8 1089.8" stroke="#fcfcfc" stroke-width="1.4"/>
<path d="M 799.1 1070.1 L 788.0 1088.9" stroke="#999" stroke-width="3.2"/>
<path d="M 799.1 1070.1 L 788.0 1088.9" stroke="#fcfcfc" stroke-width="1.4"/>
<path d="M 797.7 1067.0 L 783.5 1074.3" stroke="#999" stroke-width="3.2"/>
<path d="M 797.7 1067.0 L 783.5 1074.3" stroke="#fcfcfc" stroke-width="1.4"/>
<path d="M 798.8 1063.0 L 789.7 1054.5" stroke="#999" stroke-width="3.2"/>
<path d="M 798.8 1063.0 L 789.7 1054.5" stroke="#fcfcfc" stroke-width="1.4"/>
<path d="M 801.8 1060.4 L 803.2 1041.2" stroke="#999" stroke-width="3.2"/>
<path d="M 801.8 1060.4 L 803.2 1041.2" stroke="#fcfcfc" stroke-width="1.4"/>
<path d="M 804.9 1060.9 L 816.0 1042.1" stroke="#999" stroke-width="3.2"/>
<path d="M 804.9 1060.9 L 816.0 1042.1" stroke="#fcfcfc" stroke-width="1.4"/>
<path d="M 806.3 1064.0 L 820.5 1056.7" stroke="#999" stroke-width="3.2"/>
<path d="M 806.3 1064.0 L 820.5 1056.7" stroke="#fcfcfc" stroke-width="1.4"/>
<ellipse cx="802" cy="1065.5" rx="4.5" ry="5.5" fill="#fcfcfc" stroke="#888" stroke-width="1.1"/>
<ellipse cx="834.0" cy="1077.5" rx="6.5" ry="12" transform="rotate(15 834.0 1077.5)" fill="none" stroke="#1a1a1a" stroke-width="1.9"/>
<ellipse cx="835.6" cy="1078.1" rx="6.5" ry="12" transform="rotate(15 835.6 1078.1)" fill="none" stroke="#1a1a1a" stroke-width="1.9"/>
<ellipse cx="837.1" cy="1078.8" rx="6.5" ry="12" transform="rotate(15 837.1 1078.8)" fill="none" stroke="#1a1a1a" stroke-width="1.9"/>
<ellipse cx="838.7" cy="1079.4" rx="6.5" ry="12" transform="rotate(15 838.7 1079.4)" fill="none" stroke="#1a1a1a" stroke-width="1.9"/>
<ellipse cx="840.2" cy="1080.0" rx="6.5" ry="12" transform="rotate(15 840.2 1080.0)" fill="none" stroke="#1a1a1a" stroke-width="1.9"/>
<ellipse cx="841.8" cy="1080.6" rx="6.5" ry="12" transform="rotate(15 841.8 1080.6)" fill="none" stroke="#1a1a1a" stroke-width="1.9"/>
<ellipse cx="843.4" cy="1081.2" rx="6.5" ry="12" transform="rotate(15 843.4 1081.2)" fill="none" stroke="#1a1a1a" stroke-width="1.9"/>
<ellipse cx="844.9" cy="1081.9" rx="6.5" ry="12" transform="rotate(15 844.9 1081.9)" fill="none" stroke="#1a1a1a" stroke-width="1.9"/>
<ellipse cx="846.5" cy="1082.5" rx="6.5" ry="12" transform="rotate(15 846.5 1082.5)" fill="none" stroke="#1a1a1a" stroke-width="1.9"/>
<ellipse cx="834.0" cy="1077.5" rx="6.5" ry="12" transform="rotate(15 834.0 1077.5)" fill="#fcfcfc" stroke="none"/>
<ellipse cx="835.6" cy="1078.1" rx="6.5" ry="12" transform="rotate(15 835.6 1078.1)" fill="#fcfcfc" stroke="none"/>
<ellipse cx="837.1" cy="1078.8" rx="6.5" ry="12" transform="rotate(15 837.1 1078.8)" fill="#fcfcfc" stroke="none"/>
<ellipse cx="838.7" cy="1079.4" rx="6.5" ry="12" transform="rotate(15 838.7 1079.4)" fill="#fcfcfc" stroke="none"/>
<ellipse cx="840.2" cy="1080.0" rx="6.5" ry="12" transform="rotate(15 840.2 1080.0)" fill="#fcfcfc" stroke="none"/>
<ellipse cx="841.8" cy="1080.6" rx="6.5" ry="12" transform="rotate(15 841.8 1080.6)" fill="#fcfcfc" stroke="none"/>
<ellipse cx="843.4" cy="1081.2" rx="6.5" ry="12" transform="rotate(15 843.4 1081.2)" fill="#fcfcfc" stroke="none"/>
<ellipse cx="844.9" cy="1081.9" rx="6.5" ry="12" transform="rotate(15 844.9 1081.9)" fill="#fcfcfc" stroke="none"/>
<ellipse cx="846.5" cy="1082.5" rx="6.5" ry="12" transform="rotate(15 846.5 1082.5)" fill="#fcfcfc" stroke="none"/>
<path d="M 835.3 1090.8 L 834.5 1090.5 L 833.8 1090.0 L 833.1 1089.3 L 832.5 1088.4 L 832.1 1087.4 L 831.7 1086.3 L 831.5 1085.0 L 831.4 1083.6 L 831.4 1082.1 L 831.5 1080.6 L 831.7 1079.1 L 832.1 1077.6 L 832.6 1076.1 L 833.1 1074.6 L 833.8 1073.3 L 834.5 1072.0 L 835.3 1070.9 L 836.1 1069.9 L 837.0 1069.0 L 837.9 1068.4 L 838.8 1067.9 L 839.8 1067.6 L 840.6 1067.5 L 841.5 1067.7" fill="none" stroke="#1a1a1a" stroke-width="1.3"/>
<path d="M 837.1 1091.6 L 836.4 1091.3 L 835.6 1090.8 L 835.0 1090.1 L 834.4 1089.2 L 834.0 1088.2 L 833.6 1087.0 L 833.4 1085.7 L 833.3 1084.3 L 833.3 1082.9 L 833.4 1081.4 L 833.6 1079.8 L 834.0 1078.3 L 834.4 1076.8 L 835.0 1075.4 L 835.6 1074.0 L 836.4 1072.7 L 837.2 1071.6 L 838.0 1070.6 L 838.9 1069.8 L 839.8 1069.1 L 840.7 1068.6 L 841.6 1068.4 L 842.5 1068.3 L 843.4 1068.4" fill="none" stroke="#1a1a1a" stroke-width="1.0"/>
<ellipse cx="846.5" cy="1082.5" rx="5.9" ry="10.8" transform="rotate(15 846.5 1082.5)" fill="#fcfcfc" stroke="#1a1a1a" stroke-width="1.5"/>
<ellipse cx="847.0" cy="1082.8" rx="2.9" ry="5.4" transform="rotate(15 846.5 1082.5)" fill="#fcfcfc" stroke="#1a1a1a" stroke-width="1.5"/>
<path d="M 844.7 1083.6 Q 846.5 1088.4 848.8 1084.1 Z" fill="#1a1a1a" stroke="none"/>
<ellipse cx="864" cy="1100" rx="6" ry="8.5" transform="rotate(38 864 1100)" fill="#fcfcfc" stroke-width="2.2"/>
<ellipse cx="864.3" cy="1100" rx="3" ry="5" transform="rotate(38 864.3 1100)" stroke-width="1.2"/>
<ellipse cx="896.0" cy="1120.0" rx="9" ry="10.5" transform="rotate(10 896.0 1120.0)" fill="none" stroke="#1a1a1a" stroke-width="1.8"/>
<ellipse cx="897.5" cy="1120.6" rx="9" ry="10.5" transform="rotate(10 897.5 1120.6)" fill="none" stroke="#1a1a1a" stroke-width="1.8"/>
<ellipse cx="899.0" cy="1121.2" rx="9" ry="10.5" transform="rotate(10 899.0 1121.2)" fill="none" stroke="#1a1a1a" stroke-width="1.8"/>
<ellipse cx="900.5" cy="1121.9" rx="9" ry="10.5" transform="rotate(10 900.5 1121.9)" fill="none" stroke="#1a1a1a" stroke-width="1.8"/>
<ellipse cx="902.0" cy="1122.5" rx="9" ry="10.5" transform="rotate(10 902.0 1122.5)" fill="none" stroke="#1a1a1a" stroke-width="1.8"/>
<ellipse cx="896.0" cy="1120.0" rx="9" ry="10.5" transform="rotate(10 896.0 1120.0)" fill="#fcfcfc" stroke="none"/>
<ellipse cx="897.5" cy="1120.6" rx="9" ry="10.5" transform="rotate(10 897.5 1120.6)" fill="#fcfcfc" stroke="none"/>
<ellipse cx="899.0" cy="1121.2" rx="9" ry="10.5" transform="rotate(10 899.0 1121.2)" fill="#fcfcfc" stroke="none"/>
<ellipse cx="900.5" cy="1121.9" rx="9" ry="10.5" transform="rotate(10 900.5 1121.9)" fill="#fcfcfc" stroke="none"/>
<ellipse cx="902.0" cy="1122.5" rx="9" ry="10.5" transform="rotate(10 902.0 1122.5)" fill="#fcfcfc" stroke="none"/>
<ellipse cx="902" cy="1122.5" rx="7" ry="8.5" stroke-width="1.4"/>
<ellipse cx="903" cy="1123" rx="3.5" ry="4.5" fill="#1a1a1a" stroke="none"/>
<path d="M 890 1116 L 890 1127 M 894 1113 L 894 1130" stroke-width="1"/>
<ellipse cx="939.5" cy="1147.5" rx="25.5" ry="31" transform="rotate(20 939.5 1147.5)" fill="#fcfcfc" stroke="#333" stroke-width="1.3"/>
<path d="M 911.1 1149.3 L 911.2 1147.3 L 911.5 1145.4 L 911.8 1143.5 L 912.3 1141.5 L 912.9 1139.6 L 913.5 1137.8 L 914.3 1136.0 L 915.1 1134.2 L 916.1 1132.4 L 917.1 1130.8 L 918.2 1129.2 L 919.4 1127.6 L 920.6 1126.2 L 921.9 1124.8 L 923.3 1123.5 L 924.8 1122.3 L 926.2 1121.2 L 927.8 1120.2 L 929.4 1119.3 L 931.0 1118.5 L 932.6 1117.8 L 934.2 1117.2 L 935.9 1116.8 L 937.6 1116.4" fill="none" stroke="#333" stroke-width="4.2"/>
<path d="M 911.1 1148.2 L 911.3 1146.3 L 911.6 1144.5 L 912.0 1142.6 L 912.5 1140.8 L 913.1 1139.0 L 913.7 1137.3 L 914.5 1135.5 L 915.3 1133.8 L 916.2 1132.2 L 917.2 1130.6 L 918.3 1129.1 L 919.4 1127.6 L 920.6 1126.2 L 921.8 1124.9 L 923.1 1123.7 L 924.5 1122.5 L 925.9 1121.4 L 927.3 1120.4 L 928.8 1119.5 L 930.3 1118.7 L 931.9 1118.1 L 933.5 1117.5 L 935.1 1117.0 L 936.6 1116.6" fill="none" stroke="#fcfcfc" stroke-width="2.2"/>
<path d="M 915.4 1154.2 L 915.3 1151.9 L 915.3 1149.7 L 915.5 1147.4 L 915.9 1145.1 L 916.4 1142.9 L 917.0 1140.7 L 917.8 1138.5 L 918.7 1136.4 L 919.8 1134.3 L 921.0 1132.3 L 922.3 1130.5 L 923.7 1128.7 L 925.2 1127.1 L 926.8 1125.5 L 928.5 1124.2 L 930.2 1123.0 L 932.1 1121.9 L 933.9 1121.0 L 935.8 1120.3 L 937.7 1119.7 L 939.7 1119.3 L 941.6 1119.1 L 943.5 1119.1 L 945.4 1119.3" fill="none" stroke="#999" stroke-width="0.9"/>
</g>
<g id="rearwheel" fill="none" stroke="#1a1a1a" stroke-linejoin="round" stroke-linecap="round">
<ellipse cx="1294.5" cy="512.1" rx="7" ry="10" transform="rotate(25 1294.5 512.1)" fill="#fcfcfc" stroke-width="2.4"/>
<ellipse cx="1295" cy="512.1" rx="4" ry="6.5" transform="rotate(25 1295 512.1)" stroke-width="1.3"/>
<ellipse cx="1295.3" cy="512.1" rx="1.5" ry="3.2" transform="rotate(25 1295.3 512.1)" stroke-width="1.1"/>
<ellipse cx="1331.5" cy="541.5" rx="36" ry="48.5" transform="rotate(12 1331.5 541.5)" fill="none" stroke="#1a1a1a" stroke-width="2.2"/>
<ellipse cx="1332.5" cy="541.9" rx="36" ry="48.5" transform="rotate(12 1332.5 541.9)" fill="none" stroke="#1a1a1a" stroke-width="2.2"/>
<ellipse cx="1333.5" cy="542.3" rx="36" ry="48.5" transform="rotate(12 1333.5 542.3)" fill="none" stroke="#1a1a1a" stroke-width="2.2"/>
<ellipse cx="1334.5" cy="542.8" rx="36" ry="48.5" transform="rotate(12 1334.5 542.8)" fill="none" stroke="#1a1a1a" stroke-width="2.2"/>
<ellipse cx="1335.5" cy="543.2" rx="36" ry="48.5" transform="rotate(12 1335.5 543.2)" fill="none" stroke="#1a1a1a" stroke-width="2.2"/>
<ellipse cx="1336.5" cy="543.6" rx="36" ry="48.5" transform="rotate(12 1336.5 543.6)" fill="none" stroke="#1a1a1a" stroke-width="2.2"/>
<ellipse cx="1337.5" cy="544.0" rx="36" ry="48.5" transform="rotate(12 1337.5 544.0)" fill="none" stroke="#1a1a1a" stroke-width="2.2"/>
<ellipse cx="1331.5" cy="541.5" rx="36" ry="48.5" transform="rotate(12 1331.5 541.5)" fill="#fcfcfc" stroke="none"/>
<ellipse cx="1332.5" cy="541.9" rx="36" ry="48.5" transform="rotate(12 1332.5 541.9)" fill="#fcfcfc" stroke="none"/>
<ellipse cx="1333.5" cy="542.3" rx="36" ry="48.5" transform="rotate(12 1333.5 542.3)" fill="#fcfcfc" stroke="none"/>
<ellipse cx="1334.5" cy="542.8" rx="36" ry="48.5" transform="rotate(12 1334.5 542.8)" fill="#fcfcfc" stroke="none"/>
<ellipse cx="1335.5" cy="543.2" rx="36" ry="48.5" transform="rotate(12 1335.5 543.2)" fill="#fcfcfc" stroke="none"/>
<ellipse cx="1336.5" cy="543.6" rx="36" ry="48.5" transform="rotate(12 1336.5 543.6)" fill="#fcfcfc" stroke="none"/>
<ellipse cx="1337.5" cy="544.0" rx="36" ry="48.5" transform="rotate(12 1337.5 544.0)" fill="#fcfcfc" stroke="none"/>
<ellipse cx="1337.5" cy="544" rx="34.5" ry="47" transform="rotate(12 1337.5 544)" stroke-width="1.8"/>
<ellipse cx="1339" cy="544.5" rx="32.5" ry="45" transform="rotate(12 1339 544.5)" stroke="#aaa" stroke-width="1"/>
<ellipse cx="1320.7" cy="526.6" rx="2.2" ry="3" transform="rotate(20 1320.7 526.6)" fill="#1a1a1a" stroke="none"/>
<ellipse cx="1333.3" cy="574.5" rx="2.2" ry="3" transform="rotate(20 1333.3 574.5)" fill="#1a1a1a" stroke="none"/>
<ellipse cx="1332.9" cy="542" rx="3.5" ry="5" transform="rotate(20 1332.9 542)" stroke="#aaa" stroke-width="1"/>
<ellipse cx="1314.8" cy="555.5" rx="6" ry="8.5" transform="rotate(20 1314.8 555.5)" stroke="#aaa" stroke-width="1"/>
<path d="M 1323 528 L 1338 535 M 1336 546 L 1372 563" stroke="#999" stroke-width="1" stroke-dasharray="2.5 3"/>
<ellipse cx="1379.9" cy="565.5" rx="7" ry="10" transform="rotate(25 1379.9 565.5)" fill="#fcfcfc" stroke-width="2.4"/>
<ellipse cx="1380.4" cy="565.5" rx="4" ry="6.5" transform="rotate(25 1380.4 565.5)" stroke-width="1.3"/>
<ellipse cx="1380.7" cy="565.5" rx="1.5" ry="3.2" transform="rotate(25 1380.7 565.5)" stroke-width="1.1"/>
<path d="M 1388 569 L 1400 575" stroke="#999" stroke-width="1" stroke-dasharray="2.5 3"/>
<ellipse cx="1406.0" cy="578.5" rx="7.5" ry="11.5" transform="rotate(10 1406.0 578.5)" fill="none" stroke="#1a1a1a" stroke-width="1.9"/>
<ellipse cx="1407.5" cy="578.9" rx="7.5" ry="11.5" transform="rotate(10 1407.5 578.9)" fill="none" stroke="#1a1a1a" stroke-width="1.9"/>
<ellipse cx="1409.0" cy="579.4" rx="7.5" ry="11.5" transform="rotate(10 1409.0 579.4)" fill="none" stroke="#1a1a1a" stroke-width="1.9"/>
<ellipse cx="1410.5" cy="579.8" rx="7.5" ry="11.5" transform="rotate(10 1410.5 579.8)" fill="none" stroke="#1a1a1a" stroke-width="1.9"/>
<ellipse cx="1412.0" cy="580.2" rx="7.5" ry="11.5" transform="rotate(10 1412.0 580.2)" fill="none" stroke="#1a1a1a" stroke-width="1.9"/>
<ellipse cx="1413.5" cy="580.7" rx="7.5" ry="11.5" transform="rotate(10 1413.5 580.7)" fill="none" stroke="#1a1a1a" stroke-width="1.9"/>
<ellipse cx="1415.0" cy="581.1" rx="7.5" ry="11.5" transform="rotate(10 1415.0 581.1)" fill="none" stroke="#1a1a1a" stroke-width="1.9"/>
<ellipse cx="1416.5" cy="581.6" rx="7.5" ry="11.5" transform="rotate(10 1416.5 581.6)" fill="none" stroke="#1a1a1a" stroke-width="1.9"/>
<ellipse cx="1418.0" cy="582.0" rx="7.5" ry="11.5" transform="rotate(10 1418.0 582.0)" fill="none" stroke="#1a1a1a" stroke-width="1.9"/>
<ellipse cx="1406.0" cy="578.5" rx="7.5" ry="11.5" transform="rotate(10 1406.0 578.5)" fill="#fcfcfc" stroke="none"/>
<ellipse cx="1407.5" cy="578.9" rx="7.5" ry="11.5" transform="rotate(10 1407.5 578.9)" fill="#fcfcfc" stroke="none"/>
<ellipse cx="1409.0" cy="579.4" rx="7.5" ry="11.5" transform="rotate(10 1409.0 579.4)" fill="#fcfcfc" stroke="none"/>
<ellipse cx="1410.5" cy="579.8" rx="7.5" ry="11.5" transform="rotate(10 1410.5 579.8)" fill="#fcfcfc" stroke="none"/>
<ellipse cx="1412.0" cy="580.2" rx="7.5" ry="11.5" transform="rotate(10 1412.0 580.2)" fill="#fcfcfc" stroke="none"/>
<ellipse cx="1413.5" cy="580.7" rx="7.5" ry="11.5" transform="rotate(10 1413.5 580.7)" fill="#fcfcfc" stroke="none"/>
<ellipse cx="1415.0" cy="581.1" rx="7.5" ry="11.5" transform="rotate(10 1415.0 581.1)" fill="#fcfcfc" stroke="none"/>
<ellipse cx="1416.5" cy="581.6" rx="7.5" ry="11.5" transform="rotate(10 1416.5 581.6)" fill="#fcfcfc" stroke="none"/>
<ellipse cx="1418.0" cy="582.0" rx="7.5" ry="11.5" transform="rotate(10 1418.0 582.0)" fill="#fcfcfc" stroke="none"/>
<path d="M 1408.2 591.1 L 1407.3 590.8 L 1406.4 590.3 L 1405.5 589.7 L 1404.8 588.9 L 1404.1 587.9 L 1403.6 586.8 L 1403.1 585.6 L 1402.8 584.3 L 1402.6 582.9 L 1402.5 581.4 L 1402.6 579.9 L 1402.8 578.4 L 1403.1 577.0 L 1403.6 575.5 L 1404.1 574.2 L 1404.8 572.9 L 1405.6 571.8 L 1406.4 570.8 L 1407.3 569.9 L 1408.2 569.3 L 1409.2 568.8 L 1410.2 568.4 L 1411.2 568.3 L 1412.2 568.4" fill="none" stroke="#1a1a1a" stroke-width="1.3"/>
<path d="M 1410.0 591.6 L 1409.1 591.3 L 1408.2 590.9 L 1407.3 590.2 L 1406.6 589.4 L 1405.9 588.4 L 1405.4 587.3 L 1404.9 586.1 L 1404.6 584.8 L 1404.4 583.4 L 1404.3 581.9 L 1404.4 580.4 L 1404.6 578.9 L 1404.9 577.5 L 1405.4 576.1 L 1405.9 574.7 L 1406.6 573.5 L 1407.4 572.3 L 1408.2 571.3 L 1409.1 570.5 L 1410.0 569.8 L 1411.0 569.3 L 1412.0 569.0 L 1413.0 568.9 L 1414.0 568.9" fill="none" stroke="#1a1a1a" stroke-width="1.0"/>
<ellipse cx="1418" cy="582" rx="6.8" ry="10.3" transform="rotate(10 1418 582)" fill="#fcfcfc" stroke="#1a1a1a" stroke-width="1.5"/>
<ellipse cx="1418.5" cy="582.3" rx="3.4" ry="5.2" transform="rotate(10 1418 582)" fill="#fcfcfc" stroke="#1a1a1a" stroke-width="1.5"/>
<path d="M 1416.0 583.0 Q 1418.0 587.7 1420.7 583.6 Z" fill="#1a1a1a" stroke="none"/>
<ellipse cx="1455.0" cy="599.0" rx="37" ry="53" transform="rotate(6 1455.0 599.0)" fill="none" stroke="#1a1a1a" stroke-width="2.8"/>
<ellipse cx="1456.2" cy="599.1" rx="37" ry="53" transform="rotate(6 1456.2 599.1)" fill="none" stroke="#1a1a1a" stroke-width="2.8"/>
<ellipse cx="1457.3" cy="599.1" rx="37" ry="53" transform="rotate(6 1457.3 599.1)" fill="none" stroke="#1a1a1a" stroke-width="2.8"/>
<ellipse cx="1458.5" cy="599.2" rx="37" ry="53" transform="rotate(6 1458.5 599.2)" fill="none" stroke="#1a1a1a" stroke-width="2.8"/>
<ellipse cx="1459.7" cy="599.2" rx="37" ry="53" transform="rotate(6 1459.7 599.2)" fill="none" stroke="#1a1a1a" stroke-width="2.8"/>
<ellipse cx="1460.8" cy="599.3" rx="37" ry="53" transform="rotate(6 1460.8 599.3)" fill="none" stroke="#1a1a1a" stroke-width="2.8"/>
<ellipse cx="1462.0" cy="599.3" rx="37" ry="53" transform="rotate(6 1462.0 599.3)" fill="none" stroke="#1a1a1a" stroke-width="2.8"/>
<ellipse cx="1463.2" cy="599.4" rx="37" ry="53" transform="rotate(6 1463.2 599.4)" fill="none" stroke="#1a1a1a" stroke-width="2.8"/>
<ellipse cx="1464.3" cy="599.4" rx="37" ry="53" transform="rotate(6 1464.3 599.4)" fill="none" stroke="#1a1a1a" stroke-width="2.8"/>
<ellipse cx="1465.5" cy="599.5" rx="37" ry="53" transform="rotate(6 1465.5 599.5)" fill="none" stroke="#1a1a1a" stroke-width="2.8"/>
<ellipse cx="1466.7" cy="599.6" rx="37" ry="53" transform="rotate(6 1466.7 599.6)" fill="none" stroke="#1a1a1a" stroke-width="2.8"/>
<ellipse cx="1467.8" cy="599.6" rx="37" ry="53" transform="rotate(6 1467.8 599.6)" fill="none" stroke="#1a1a1a" stroke-width="2.8"/>
<ellipse cx="1469.0" cy="599.7" rx="37" ry="53" transform="rotate(6 1469.0 599.7)" fill="none" stroke="#1a1a1a" stroke-width="2.8"/>
<ellipse cx="1470.2" cy="599.7" rx="37" ry="53" transform="rotate(6 1470.2 599.7)" fill="none" stroke="#1a1a1a" stroke-width="2.8"/>
<ellipse cx="1471.3" cy="599.8" rx="37" ry="53" transform="rotate(6 1471.3 599.8)" fill="none" stroke="#1a1a1a" stroke-width="2.8"/>
<ellipse cx="1472.5" cy="599.8" rx="37" ry="53" transform="rotate(6 1472.5 599.8)" fill="none" stroke="#1a1a1a" stroke-width="2.8"/>
<ellipse cx="1473.7" cy="599.9" rx="37" ry="53" transform="rotate(6 1473.7 599.9)" fill="none" stroke="#1a1a1a" stroke-width="2.8"/>
<ellipse cx="1474.8" cy="599.9" rx="37" ry="53" transform="rotate(6 1474.8 599.9)" fill="none" stroke="#1a1a1a" stroke-width="2.8"/>
<ellipse cx="1476.0" cy="600.0" rx="37" ry="53" transform="rotate(6 1476.0 600.0)" fill="none" stroke="#1a1a1a" stroke-width="2.8"/>
<ellipse cx="1455.0" cy="599.0" rx="37" ry="53" transform="rotate(6 1455.0 599.0)" fill="#fcfcfc" stroke="none"/>
<ellipse cx="1456.2" cy="599.1" rx="37" ry="53" transform="rotate(6 1456.2 599.1)" fill="#fcfcfc" stroke="none"/>
<ellipse cx="1457.3" cy="599.1" rx="37" ry="53" transform="rotate(6 1457.3 599.1)" fill="#fcfcfc" stroke="none"/>
<ellipse cx="1458.5" cy="599.2" rx="37" ry="53" transform="rotate(6 1458.5 599.2)" fill="#fcfcfc" stroke="none"/>
<ellipse cx="1459.7" cy="599.2" rx="37" ry="53" transform="rotate(6 1459.7 599.2)" fill="#fcfcfc" stroke="none"/>
<ellipse cx="1460.8" cy="599.3" rx="37" ry="53" transform="rotate(6 1460.8 599.3)" fill="#fcfcfc" stroke="none"/>
<ellipse cx="1462.0" cy="599.3" rx="37" ry="53" transform="rotate(6 1462.0 599.3)" fill="#fcfcfc" stroke="none"/>
<ellipse cx="1463.2" cy="599.4" rx="37" ry="53" transform="rotate(6 1463.2 599.4)" fill="#fcfcfc" stroke="none"/>
<ellipse cx="1464.3" cy="599.4" rx="37" ry="53" transform="rotate(6 1464.3 599.4)" fill="#fcfcfc" stroke="none"/>
<ellipse cx="1465.5" cy="599.5" rx="37" ry="53" transform="rotate(6 1465.5 599.5)" fill="#fcfcfc" stroke="none"/>
<ellipse cx="1466.7" cy="599.6" rx="37" ry="53" transform="rotate(6 1466.7 599.6)" fill="#fcfcfc" stroke="none"/>
<ellipse cx="1467.8" cy="599.6" rx="37" ry="53" transform="rotate(6 1467.8 599.6)" fill="#fcfcfc" stroke="none"/>
<ellipse cx="1469.0" cy="599.7" rx="37" ry="53" transform="rotate(6 1469.0 599.7)" fill="#fcfcfc" stroke="none"/>
<ellipse cx="1470.2" cy="599.7" rx="37" ry="53" transform="rotate(6 1470.2 599.7)" fill="#fcfcfc" stroke="none"/>
<ellipse cx="1471.3" cy="599.8" rx="37" ry="53" transform="rotate(6 1471.3 599.8)" fill="#fcfcfc" stroke="none"/>
<ellipse cx="1472.5" cy="599.8" rx="37" ry="53" transform="rotate(6 1472.5 599.8)" fill="#fcfcfc" stroke="none"/>
<ellipse cx="1473.7" cy="599.9" rx="37" ry="53" transform="rotate(6 1473.7 599.9)" fill="#fcfcfc" stroke="none"/>
<ellipse cx="1474.8" cy="599.9" rx="37" ry="53" transform="rotate(6 1474.8 599.9)" fill="#fcfcfc" stroke="none"/>
<ellipse cx="1476.0" cy="600.0" rx="37" ry="53" transform="rotate(6 1476.0 600.0)" fill="#fcfcfc" stroke="none"/>
<path d="M 1463.7 651.6 L 1455.7 651.2" stroke="#1a1a1a" stroke-width="3.6" stroke-linecap="butt"/>
<path d="M 1462.8 651.5 L 1456.6 651.2" stroke="#fcfcfc" stroke-width="1.5" stroke-linecap="butt"/>
<path d="M 1453.6 651.1 L 1445.7 650.7" stroke="#1a1a1a" stroke-width="3.6" stroke-linecap="butt"/>
<path d="M 1452.7 651.1 L 1446.6 650.8" stroke="#fcfcfc" stroke-width="1.5" stroke-linecap="butt"/>
<path d="M 1460.5 650.4 L 1452.5 650.0" stroke="#1a1a1a" stroke-width="3.6" stroke-linecap="butt"/>
<path d="M 1459.6 650.3 L 1453.4 650.0" stroke="#fcfcfc" stroke-width="1.5" stroke-linecap="butt"/>
<path d="M 1450.4 649.9 L 1442.5 649.5" stroke="#1a1a1a" stroke-width="3.6" stroke-linecap="butt"/>
<path d="M 1449.5 649.8 L 1443.4 649.5" stroke="#fcfcfc" stroke-width="1.5" stroke-linecap="butt"/>
<path d="M 1457.4 648.7 L 1449.5 648.3" stroke="#1a1a1a" stroke-width="3.6" stroke-linecap="butt"/>
<path d="M 1456.5 648.7 L 1450.4 648.4" stroke="#fcfcfc" stroke-width="1.5" stroke-linecap="butt"/>
<path d="M 1447.4 648.2 L 1439.4 647.9" stroke="#1a1a1a" stroke-width="3.6" stroke-linecap="butt"/>
<path d="M 1446.5 648.2 L 1440.3 647.9" stroke="#fcfcfc" stroke-width="1.5" stroke-linecap="butt"/>
<path d="M 1454.5 646.7 L 1446.5 646.3" stroke="#1a1a1a" stroke-width="3.6" stroke-linecap="butt"/>
<path d="M 1453.6 646.6 L 1447.4 646.3" stroke="#fcfcfc" stroke-width="1.5" stroke-linecap="butt"/>
<path d="M 1444.4 646.2 L 1436.5 645.8" stroke="#1a1a1a" stroke-width="3.6" stroke-linecap="butt"/>
<path d="M 1443.5 646.1 L 1437.4 645.9" stroke="#fcfcfc" stroke-width="1.5" stroke-linecap="butt"/>
<path d="M 1451.7 644.2 L 1443.8 643.9" stroke="#1a1a1a" stroke-width="3.6" stroke-linecap="butt"/>
<path d="M 1450.8 644.2 L 1444.7 643.9" stroke="#fcfcfc" stroke-width="1.5" stroke-linecap="butt"/>
<path d="M 1441.7 643.8 L 1433.7 643.4" stroke="#1a1a1a" stroke-width="3.6" stroke-linecap="butt"/>
<path d="M 1440.8 643.7 L 1434.6 643.4" stroke="#fcfcfc" stroke-width="1.5" stroke-linecap="butt"/>
<path d="M 1449.2 641.5 L 1441.2 641.1" stroke="#1a1a1a" stroke-width="3.6" stroke-linecap="butt"/>
<path d="M 1448.3 641.4 L 1442.1 641.1" stroke="#fcfcfc" stroke-width="1.5" stroke-linecap="butt"/>
<path d="M 1439.1 641.0 L 1431.1 640.6" stroke="#1a1a1a" stroke-width="3.6" stroke-linecap="butt"/>
<path d="M 1438.2 640.9 L 1432.0 640.6" stroke="#fcfcfc" stroke-width="1.5" stroke-linecap="butt"/>
<path d="M 1446.8 638.3 L 1438.8 637.9" stroke="#1a1a1a" stroke-width="3.6" stroke-linecap="butt"/>
<path d="M 1445.9 638.3 L 1439.7 638.0" stroke="#fcfcfc" stroke-width="1.5" stroke-linecap="butt"/>
<path d="M 1436.7 637.8 L 1428.7 637.5" stroke="#1a1a1a" stroke-width="3.6" stroke-linecap="butt"/>
<path d="M 1435.8 637.8 L 1429.6 637.5" stroke="#fcfcfc" stroke-width="1.5" stroke-linecap="butt"/>
<path d="M 1444.6 634.9 L 1436.6 634.5" stroke="#1a1a1a" stroke-width="3.6" stroke-linecap="butt"/>
<path d="M 1443.7 634.8 L 1437.5 634.5" stroke="#fcfcfc" stroke-width="1.5" stroke-linecap="butt"/>
<path d="M 1434.5 634.4 L 1426.6 634.0" stroke="#1a1a1a" stroke-width="3.6" stroke-linecap="butt"/>
<path d="M 1433.6 634.4 L 1427.5 634.1" stroke="#fcfcfc" stroke-width="1.5" stroke-linecap="butt"/>
<path d="M 1442.7 631.1 L 1434.7 630.8" stroke="#1a1a1a" stroke-width="3.6" stroke-linecap="butt"/>
<path d="M 1441.8 631.1 L 1435.6 630.8" stroke="#fcfcfc" stroke-width="1.5" stroke-linecap="butt"/>
<path d="M 1432.6 630.7 L 1424.6 630.3" stroke="#1a1a1a" stroke-width="3.6" stroke-linecap="butt"/>
<path d="M 1431.7 630.6 L 1425.5 630.3" stroke="#fcfcfc" stroke-width="1.5" stroke-linecap="butt"/>
<path d="M 1441.1 627.1 L 1433.1 626.8" stroke="#1a1a1a" stroke-width="3.6" stroke-linecap="butt"/>
<path d="M 1440.2 627.1 L 1434.0 626.8" stroke="#fcfcfc" stroke-width="1.5" stroke-linecap="butt"/>
<path d="M 1431.0 626.7 L 1423.0 626.3" stroke="#1a1a1a" stroke-width="3.6" stroke-linecap="butt"/>
<path d="M 1430.1 626.6 L 1423.9 626.3" stroke="#fcfcfc" stroke-width="1.5" stroke-linecap="butt"/>
<path d="M 1439.7 622.9 L 1431.7 622.5" stroke="#1a1a1a" stroke-width="3.6" stroke-linecap="butt"/>
<path d="M 1438.8 622.9 L 1432.6 622.6" stroke="#fcfcfc" stroke-width="1.5" stroke-linecap="butt"/>
<path d="M 1429.6 622.4 L 1421.6 622.1" stroke="#1a1a1a" stroke-width="3.6" stroke-linecap="butt"/>
<path d="M 1428.7 622.4 L 1422.5 622.1" stroke="#fcfcfc" stroke-width="1.5" stroke-linecap="butt"/>
<path d="M 1438.6 618.5 L 1430.6 618.1" stroke="#1a1a1a" stroke-width="3.6" stroke-linecap="butt"/>
<path d="M 1437.7 618.5 L 1431.5 618.2" stroke="#fcfcfc" stroke-width="1.5" stroke-linecap="butt"/>
<path d="M 1428.5 618.0 L 1420.5 617.7" stroke="#1a1a1a" stroke-width="3.6" stroke-linecap="butt"/>
<path d="M 1427.6 618.0 L 1421.4 617.7" stroke="#fcfcfc" stroke-width="1.5" stroke-linecap="butt"/>
<path d="M 1437.8 614.0 L 1429.8 613.6" stroke="#1a1a1a" stroke-width="3.6" stroke-linecap="butt"/>
<path d="M 1436.9 613.9 L 1430.7 613.6" stroke="#fcfcfc" stroke-width="1.5" stroke-linecap="butt"/>
<path d="M 1427.7 613.5 L 1419.7 613.1" stroke="#1a1a1a" stroke-width="3.6" stroke-linecap="butt"/>
<path d="M 1426.8 613.4 L 1420.6 613.1" stroke="#fcfcfc" stroke-width="1.5" stroke-linecap="butt"/>
<path d="M 1437.3 609.3 L 1429.3 608.9" stroke="#1a1a1a" stroke-width="3.6" stroke-linecap="butt"/>
<path d="M 1436.4 609.2 L 1430.2 608.9" stroke="#fcfcfc" stroke-width="1.5" stroke-linecap="butt"/>
<path d="M 1427.2 608.8 L 1419.2 608.4" stroke="#1a1a1a" stroke-width="3.6" stroke-linecap="butt"/>
<path d="M 1426.3 608.8 L 1420.1 608.5" stroke="#fcfcfc" stroke-width="1.5" stroke-linecap="butt"/>
<path d="M 1437.1 604.5 L 1429.1 604.1" stroke="#1a1a1a" stroke-width="3.6" stroke-linecap="butt"/>
<path d="M 1436.2 604.5 L 1430.0 604.2" stroke="#fcfcfc" stroke-width="1.5" stroke-linecap="butt"/>
<path d="M 1427.0 604.0 L 1419.1 603.7" stroke="#1a1a1a" stroke-width="3.6" stroke-linecap="butt"/>
<path d="M 1426.1 604.0 L 1419.9 603.7" stroke="#fcfcfc" stroke-width="1.5" stroke-linecap="butt"/>
<path d="M 1437.2 599.7 L 1429.2 599.4" stroke="#1a1a1a" stroke-width="3.6" stroke-linecap="butt"/>
<path d="M 1436.3 599.7 L 1430.1 599.4" stroke="#fcfcfc" stroke-width="1.5" stroke-linecap="butt"/>
<path d="M 1427.1 599.3 L 1419.2 598.9" stroke="#1a1a1a" stroke-width="3.6" stroke-linecap="butt"/>
<path d="M 1426.2 599.2 L 1420.1 598.9" stroke="#fcfcfc" stroke-width="1.5" stroke-linecap="butt"/>
<path d="M 1437.6 594.9 L 1429.7 594.6" stroke="#1a1a1a" stroke-width="3.6" stroke-linecap="butt"/>
<path d="M 1436.7 594.9 L 1430.6 594.6" stroke="#fcfcfc" stroke-width="1.5" stroke-linecap="butt"/>
<path d="M 1427.6 594.5 L 1419.6 594.1" stroke="#1a1a1a" stroke-width="3.6" stroke-linecap="butt"/>
<path d="M 1426.7 594.4 L 1420.5 594.1" stroke="#fcfcfc" stroke-width="1.5" stroke-linecap="butt"/>
<path d="M 1438.4 590.2 L 1430.4 589.8" stroke="#1a1a1a" stroke-width="3.6" stroke-linecap="butt"/>
<path d="M 1437.5 590.2 L 1431.3 589.9" stroke="#fcfcfc" stroke-width="1.5" stroke-linecap="butt"/>
<path d="M 1428.3 589.7 L 1420.3 589.3" stroke="#1a1a1a" stroke-width="3.6" stroke-linecap="butt"/>
<path d="M 1427.4 589.7 L 1421.2 589.4" stroke="#fcfcfc" stroke-width="1.5" stroke-linecap="butt"/>
<path d="M 1439.4 585.5 L 1431.4 585.2" stroke="#1a1a1a" stroke-width="3.6" stroke-linecap="butt"/>
<path d="M 1438.5 585.5 L 1432.3 585.2" stroke="#fcfcfc" stroke-width="1.5" stroke-linecap="butt"/>
<path d="M 1429.3 585.1 L 1421.3 584.7" stroke="#1a1a1a" stroke-width="3.6" stroke-linecap="butt"/>
<path d="M 1428.4 585.0 L 1422.2 584.7" stroke="#fcfcfc" stroke-width="1.5" stroke-linecap="butt"/>
<path d="M 1440.7 581.0 L 1432.7 580.6" stroke="#1a1a1a" stroke-width="3.6" stroke-linecap="butt"/>
<path d="M 1439.8 580.9 L 1433.6 580.6" stroke="#fcfcfc" stroke-width="1.5" stroke-linecap="butt"/>
<path d="M 1430.6 580.5 L 1422.6 580.1" stroke="#1a1a1a" stroke-width="3.6" stroke-linecap="butt"/>
<path d="M 1429.7 580.5 L 1423.5 580.2" stroke="#fcfcfc" stroke-width="1.5" stroke-linecap="butt"/>
<path d="M 1442.3 576.6 L 1434.3 576.2" stroke="#1a1a1a" stroke-width="3.6" stroke-linecap="butt"/>
<path d="M 1441.4 576.5 L 1435.2 576.3" stroke="#fcfcfc" stroke-width="1.5" stroke-linecap="butt"/>
<path d="M 1432.2 576.1 L 1424.2 575.7" stroke="#1a1a1a" stroke-width="3.6" stroke-linecap="butt"/>
<path d="M 1431.3 576.1 L 1425.1 575.8" stroke="#fcfcfc" stroke-width="1.5" stroke-linecap="butt"/>
<path d="M 1444.1 572.4 L 1436.1 572.0" stroke="#1a1a1a" stroke-width="3.6" stroke-linecap="butt"/>
<path d="M 1443.2 572.3 L 1437.0 572.0" stroke="#fcfcfc" stroke-width="1.5" stroke-linecap="butt"/>
<path d="M 1434.0 571.9 L 1426.1 571.5" stroke="#1a1a1a" stroke-width="3.6" stroke-linecap="butt"/>
<path d="M 1433.1 571.9 L 1427.0 571.6" stroke="#fcfcfc" stroke-width="1.5" stroke-linecap="butt"/>
<path d="M 1446.2 568.4 L 1438.2 568.0" stroke="#1a1a1a" stroke-width="3.6" stroke-linecap="butt"/>
<path d="M 1445.3 568.4 L 1439.1 568.1" stroke="#fcfcfc" stroke-width="1.5" stroke-linecap="butt"/>
<path d="M 1436.1 567.9 L 1428.2 567.6" stroke="#1a1a1a" stroke-width="3.6" stroke-linecap="butt"/>
<path d="M 1435.2 567.9 L 1429.1 567.6" stroke="#fcfcfc" stroke-width="1.5" stroke-linecap="butt"/>
<path d="M 1448.5 564.7 L 1440.6 564.3" stroke="#1a1a1a" stroke-width="3.6" stroke-linecap="butt"/>
<path d="M 1447.6 564.7 L 1441.5 564.4" stroke="#fcfcfc" stroke-width="1.5" stroke-linecap="butt"/>
<path d="M 1438.5 564.2 L 1430.5 563.8" stroke="#1a1a1a" stroke-width="3.6" stroke-linecap="butt"/>
<path d="M 1437.6 564.2 L 1431.4 563.9" stroke="#fcfcfc" stroke-width="1.5" stroke-linecap="butt"/>
<path d="M 1451.1 561.3 L 1443.1 560.9" stroke="#1a1a1a" stroke-width="3.6" stroke-linecap="butt"/>
<path d="M 1450.2 561.2 L 1444.0 560.9" stroke="#fcfcfc" stroke-width="1.5" stroke-linecap="butt"/>
<path d="M 1441.0 560.8 L 1433.0 560.4" stroke="#1a1a1a" stroke-width="3.6" stroke-linecap="butt"/>
<path d="M 1440.1 560.7 L 1433.9 560.5" stroke="#fcfcfc" stroke-width="1.5" stroke-linecap="butt"/>
<path d="M 1453.8 558.2 L 1445.8 557.8" stroke="#1a1a1a" stroke-width="3.6" stroke-linecap="butt"/>
<path d="M 1452.9 558.1 L 1446.7 557.8" stroke="#fcfcfc" stroke-width="1.5" stroke-linecap="butt"/>
<path d="M 1443.7 557.7 L 1435.8 557.3" stroke="#1a1a1a" stroke-width="3.6" stroke-linecap="butt"/>
<path d="M 1442.8 557.6 L 1436.7 557.3" stroke="#fcfcfc" stroke-width="1.5" stroke-linecap="butt"/>
<path d="M 1456.7 555.4 L 1448.7 555.0" stroke="#1a1a1a" stroke-width="3.6" stroke-linecap="butt"/>
<path d="M 1455.8 555.4 L 1449.6 555.1" stroke="#fcfcfc" stroke-width="1.5" stroke-linecap="butt"/>
<path d="M 1446.6 554.9 L 1438.7 554.5" stroke="#1a1a1a" stroke-width="3.6" stroke-linecap="butt"/>
<path d="M 1445.7 554.9 L 1439.6 554.6" stroke="#fcfcfc" stroke-width="1.5" stroke-linecap="butt"/>
<path d="M 1459.8 553.0 L 1451.8 552.6" stroke="#1a1a1a" stroke-width="3.6" stroke-linecap="butt"/>
<path d="M 1458.9 553.0 L 1452.7 552.7" stroke="#fcfcfc" stroke-width="1.5" stroke-linecap="butt"/>
<path d="M 1449.7 552.5 L 1441.7 552.1" stroke="#1a1a1a" stroke-width="3.6" stroke-linecap="butt"/>
<path d="M 1448.8 552.5 L 1442.6 552.2" stroke="#fcfcfc" stroke-width="1.5" stroke-linecap="butt"/>
<path d="M 1462.9 551.0 L 1454.9 550.6" stroke="#1a1a1a" stroke-width="3.6" stroke-linecap="butt"/>
<path d="M 1462.0 550.9 L 1455.8 550.7" stroke="#fcfcfc" stroke-width="1.5" stroke-linecap="butt"/>
<path d="M 1452.8 550.5 L 1444.9 550.1" stroke="#1a1a1a" stroke-width="3.6" stroke-linecap="butt"/>
<path d="M 1451.9 550.5 L 1445.8 550.2" stroke="#fcfcfc" stroke-width="1.5" stroke-linecap="butt"/>
<path d="M 1466.2 549.4 L 1458.2 549.0" stroke="#1a1a1a" stroke-width="3.6" stroke-linecap="butt"/>
<path d="M 1465.3 549.3 L 1459.1 549.0" stroke="#fcfcfc" stroke-width="1.5" stroke-linecap="butt"/>
<path d="M 1456.1 548.9 L 1448.1 548.5" stroke="#1a1a1a" stroke-width="3.6" stroke-linecap="butt"/>
<path d="M 1455.2 548.9 L 1449.0 548.6" stroke="#fcfcfc" stroke-width="1.5" stroke-linecap="butt"/>
<path d="M 1469.5 548.2 L 1461.5 547.8" stroke="#1a1a1a" stroke-width="3.6" stroke-linecap="butt"/>
<path d="M 1468.6 548.1 L 1462.4 547.8" stroke="#fcfcfc" stroke-width="1.5" stroke-linecap="butt"/>
<path d="M 1459.4 547.7 L 1451.4 547.3" stroke="#1a1a1a" stroke-width="3.6" stroke-linecap="butt"/>
<path d="M 1458.5 547.7 L 1452.3 547.4" stroke="#fcfcfc" stroke-width="1.5" stroke-linecap="butt"/>
<path d="M 1472.9 547.4 L 1464.9 547.0" stroke="#1a1a1a" stroke-width="3.6" stroke-linecap="butt"/>
<path d="M 1472.0 547.4 L 1465.8 547.1" stroke="#fcfcfc" stroke-width="1.5" stroke-linecap="butt"/>
<path d="M 1462.8 546.9 L 1454.8 546.6" stroke="#1a1a1a" stroke-width="3.6" stroke-linecap="butt"/>
<path d="M 1461.9 546.9 L 1455.7 546.6" stroke="#fcfcfc" stroke-width="1.5" stroke-linecap="butt"/>
<path d="M 1478.3 547.2 L 1481.5 547.3 L 1484.6 547.8 L 1487.6 548.7 L 1490.6 549.9 L 1493.4 551.6 L 1496.2 553.5 L 1498.7 555.8 L 1501.2 558.5 L 1503.4 561.4 L 1505.4 564.6 L 1507.3 568.1 L 1508.9 571.8 L 1510.2 575.7 L 1511.4 579.7 L 1512.2 584.0 L 1512.8 588.3 L 1513.1 592.7 L 1513.2 597.2 L 1513.0 601.7 L 1512.5 606.2 L 1511.8 610.6 L 1510.8 615.0 L 1509.5 619.2 L 1508.0 623.3 L 1506.3 627.3 L 1504.4 631.0 L 1502.2 634.5 L 1499.9 637.8 L 1497.4 640.8 L 1494.7 643.5 L 1491.9 645.9 L 1489.0 648.0 L 1486.0 649.7 L 1482.9 651.0 L 1479.8 652.0 L 1476.6 652.6 L 1473.4 652.8 L 1470.3 652.7 L 1467.2 652.2 L 1464.2 651.2" stroke="#1a1a1a" stroke-width="1.4"/>
<ellipse cx="1477" cy="601" rx="35" ry="50" transform="rotate(6 1477 601)" fill="#fcfcfc" stroke="none"/>
<path d="M 1475.1 547.4 L 1478.3 547.2 L 1481.5 547.3 L 1484.7 547.8 L 1487.8 548.8 L 1490.9 550.1 L 1493.8 551.8 L 1496.6 553.9 L 1499.2 556.3 L 1501.6 559.0 L 1503.9 562.1 L 1505.9 565.5 L 1507.7 569.1 L 1509.3 572.9 L 1510.6 577.0 L 1511.7 581.2 L 1512.5 585.6 L 1513.0 590.1 L 1513.2 594.7 L 1513.1 599.3 L 1512.8 603.9 L 1512.2 608.4 L 1511.3 613.0 L 1510.1 617.4 L 1508.7 621.7 L 1507.0 625.8 L 1505.1 629.7 L 1503.0 633.4 L 1500.6 636.8 L 1498.1 640.0 L 1495.4 642.9 L 1492.6 645.4 L 1489.6 647.6 L 1486.5 649.4 L 1483.4 650.9 L 1480.2 651.9 L 1476.9 652.6 L 1473.7 652.8 L 1470.5 652.7 L 1467.3 652.2 L 1464.2 651.2" stroke="#1a1a1a" stroke-width="2.6"/>
<ellipse cx="1476" cy="604.3" rx="26" ry="33" transform="rotate(8 1476 604.3)" stroke-width="1.6"/>
<ellipse cx="1478" cy="604.3" rx="22" ry="29" transform="rotate(8 1478 604.3)" stroke-width="2.2"/>
<ellipse cx="1476" cy="604.3" rx="20" ry="27" transform="rotate(8 1476 604.3)" stroke="#888" stroke-width="1"/>
<path d="M 1469 602.5 L 1486.2 611.7" stroke="#1a1a1a" stroke-width="3.4"/>
<path d="M 1469 602.5 L 1486.2 611.7" stroke="#fcfcfc" stroke-width="1.2"/>
<path d="M 1469 602.5 L 1470.4 628.1" stroke="#1a1a1a" stroke-width="3.4"/>
<path d="M 1469 602.5 L 1470.4 628.1" stroke="#fcfcfc" stroke-width="1.2"/>
<path d="M 1469 602.5 L 1453.1 618.8" stroke="#1a1a1a" stroke-width="3.4"/>
<path d="M 1469 602.5 L 1453.1 618.8" stroke="#fcfcfc" stroke-width="1.2"/>
<path d="M 1469 602.5 L 1451.8 593.3" stroke="#1a1a1a" stroke-width="3.4"/>
<path d="M 1469 602.5 L 1451.8 593.3" stroke="#fcfcfc" stroke-width="1.2"/>
<path d="M 1469 602.5 L 1467.6 576.9" stroke="#1a1a1a" stroke-width="3.4"/>
<path d="M 1469 602.5 L 1467.6 576.9" stroke="#fcfcfc" stroke-width="1.2"/>
<path d="M 1469 602.5 L 1484.9 586.2" stroke="#1a1a1a" stroke-width="3.4"/>
<path d="M 1469 602.5 L 1484.9 586.2" stroke="#fcfcfc" stroke-width="1.2"/>
<ellipse cx="1469" cy="602.5" rx="5" ry="6" fill="#1a1a1a" stroke="none"/>
<ellipse cx="1514.5" cy="630.0" rx="7.5" ry="11.5" transform="rotate(10 1514.5 630.0)" fill="none" stroke="#1a1a1a" stroke-width="1.9"/>
<ellipse cx="1516.1" cy="630.5" rx="7.5" ry="11.5" transform="rotate(10 1516.1 630.5)" fill="none" stroke="#1a1a1a" stroke-width="1.9"/>
<ellipse cx="1517.6" cy="631.0" rx="7.5" ry="11.5" transform="rotate(10 1517.6 631.0)" fill="none" stroke="#1a1a1a" stroke-width="1.9"/>
<ellipse cx="1519.2" cy="631.5" rx="7.5" ry="11.5" transform="rotate(10 1519.2 631.5)" fill="none" stroke="#1a1a1a" stroke-width="1.9"/>
<ellipse cx="1520.8" cy="632.0" rx="7.5" ry="11.5" transform="rotate(10 1520.8 632.0)" fill="none" stroke="#1a1a1a" stroke-width="1.9"/>
<ellipse cx="1522.3" cy="632.5" rx="7.5" ry="11.5" transform="rotate(10 1522.3 632.5)" fill="none" stroke="#1a1a1a" stroke-width="1.9"/>
<ellipse cx="1523.9" cy="633.0" rx="7.5" ry="11.5" transform="rotate(10 1523.9 633.0)" fill="none" stroke="#1a1a1a" stroke-width="1.9"/>
<ellipse cx="1525.4" cy="633.5" rx="7.5" ry="11.5" transform="rotate(10 1525.4 633.5)" fill="none" stroke="#1a1a1a" stroke-width="1.9"/>
<ellipse cx="1527.0" cy="634.0" rx="7.5" ry="11.5" transform="rotate(10 1527.0 634.0)" fill="none" stroke="#1a1a1a" stroke-width="1.9"/>
<ellipse cx="1514.5" cy="630.0" rx="7.5" ry="11.5" transform="rotate(10 1514.5 630.0)" fill="#fcfcfc" stroke="none"/>
<ellipse cx="1516.1" cy="630.5" rx="7.5" ry="11.5" transform="rotate(10 1516.1 630.5)" fill="#fcfcfc" stroke="none"/>
<ellipse cx="1517.6" cy="631.0" rx="7.5" ry="11.5" transform="rotate(10 1517.6 631.0)" fill="#fcfcfc" stroke="none"/>
<ellipse cx="1519.2" cy="631.5" rx="7.5" ry="11.5" transform="rotate(10 1519.2 631.5)" fill="#fcfcfc" stroke="none"/>
<ellipse cx="1520.8" cy="632.0" rx="7.5" ry="11.5" transform="rotate(10 1520.8 632.0)" fill="#fcfcfc" stroke="none"/>
<ellipse cx="1522.3" cy="632.5" rx="7.5" ry="11.5" transform="rotate(10 1522.3 632.5)" fill="#fcfcfc" stroke="none"/>
<ellipse cx="1523.9" cy="633.0" rx="7.5" ry="11.5" transform="rotate(10 1523.9 633.0)" fill="#fcfcfc" stroke="none"/>
<ellipse cx="1525.4" cy="633.5" rx="7.5" ry="11.5" transform="rotate(10 1525.4 633.5)" fill="#fcfcfc" stroke="none"/>
<ellipse cx="1527.0" cy="634.0" rx="7.5" ry="11.5" transform="rotate(10 1527.0 634.0)" fill="#fcfcfc" stroke="none"/>
<path d="M 1516.9 642.7 L 1515.9 642.5 L 1515.0 642.0 L 1514.2 641.4 L 1513.5 640.6 L 1512.8 639.6 L 1512.2 638.5 L 1511.8 637.3 L 1511.5 635.9 L 1511.3 634.5 L 1511.2 633.1 L 1511.3 631.6 L 1511.5 630.1 L 1511.8 628.6 L 1512.3 627.2 L 1512.8 625.9 L 1513.5 624.6 L 1514.2 623.5 L 1515.1 622.5 L 1516.0 621.6 L 1516.9 620.9 L 1517.9 620.4 L 1518.9 620.1 L 1519.9 620.0 L 1520.9 620.1" fill="none" stroke="#1a1a1a" stroke-width="1.3"/>
<path d="M 1518.8 643.3 L 1517.8 643.1 L 1516.9 642.6 L 1516.1 642.0 L 1515.3 641.2 L 1514.7 640.2 L 1514.1 639.1 L 1513.7 637.9 L 1513.4 636.5 L 1513.2 635.1 L 1513.1 633.7 L 1513.2 632.2 L 1513.4 630.7 L 1513.7 629.2 L 1514.1 627.8 L 1514.7 626.5 L 1515.4 625.2 L 1516.1 624.1 L 1516.9 623.1 L 1517.8 622.2 L 1518.8 621.5 L 1519.8 621.0 L 1520.8 620.7 L 1521.8 620.6 L 1522.7 620.7" fill="none" stroke="#1a1a1a" stroke-width="1.0"/>
<ellipse cx="1527" cy="634" rx="6.8" ry="10.3" transform="rotate(10 1527 634)" fill="#fcfcfc" stroke="#1a1a1a" stroke-width="1.5"/>
<ellipse cx="1527.5" cy="634.3" rx="3.4" ry="5.2" transform="rotate(10 1527 634)" fill="#fcfcfc" stroke="#1a1a1a" stroke-width="1.5"/>
<path d="M 1525.0 635.0 Q 1527.0 639.7 1529.7 635.6 Z" fill="#1a1a1a" stroke="none"/>
<ellipse cx="1562" cy="652.2" rx="6.5" ry="8.5" transform="rotate(30 1562 652.2)" fill="#fcfcfc" stroke-width="2.4"/>
<ellipse cx="1562.5" cy="652.2" rx="3" ry="5" transform="rotate(30 1562.5 652.2)" stroke-width="1.2"/>
<ellipse cx="1583.0" cy="659.5" rx="9.5" ry="10.5" transform="rotate(10 1583.0 659.5)" fill="none" stroke="#1a1a1a" stroke-width="1.8"/>
<ellipse cx="1584.5" cy="660.1" rx="9.5" ry="10.5" transform="rotate(10 1584.5 660.1)" fill="none" stroke="#1a1a1a" stroke-width="1.8"/>
<ellipse cx="1586.0" cy="660.8" rx="9.5" ry="10.5" transform="rotate(10 1586.0 660.8)" fill="none" stroke="#1a1a1a" stroke-width="1.8"/>
<ellipse cx="1587.5" cy="661.4" rx="9.5" ry="10.5" transform="rotate(10 1587.5 661.4)" fill="none" stroke="#1a1a1a" stroke-width="1.8"/>
<ellipse cx="1589.0" cy="662.0" rx="9.5" ry="10.5" transform="rotate(10 1589.0 662.0)" fill="none" stroke="#1a1a1a" stroke-width="1.8"/>
<ellipse cx="1583.0" cy="659.5" rx="9.5" ry="10.5" transform="rotate(10 1583.0 659.5)" fill="#fcfcfc" stroke="none"/>
<ellipse cx="1584.5" cy="660.1" rx="9.5" ry="10.5" transform="rotate(10 1584.5 660.1)" fill="#fcfcfc" stroke="none"/>
<ellipse cx="1586.0" cy="660.8" rx="9.5" ry="10.5" transform="rotate(10 1586.0 660.8)" fill="#fcfcfc" stroke="none"/>
<ellipse cx="1587.5" cy="661.4" rx="9.5" ry="10.5" transform="rotate(10 1587.5 661.4)" fill="#fcfcfc" stroke="none"/>
<ellipse cx="1589.0" cy="662.0" rx="9.5" ry="10.5" transform="rotate(10 1589.0 662.0)" fill="#fcfcfc" stroke="none"/>
<ellipse cx="1589" cy="662" rx="7" ry="8.5" stroke-width="1.4"/>
<ellipse cx="1590" cy="662.5" rx="3.5" ry="4.5" fill="#1a1a1a" stroke="none"/>
<path d="M 1577 656 L 1577 667 M 1581 653 L 1581 670" stroke-width="1"/>
<ellipse cx="1642" cy="679.5" rx="28.5" ry="36" transform="rotate(14 1642 679.5)" fill="#fcfcfc" stroke="#333" stroke-width="1.3"/>
<path d="M 1610.5 685.1 L 1610.5 682.8 L 1610.6 680.6 L 1610.8 678.3 L 1611.1 676.0 L 1611.5 673.8 L 1612.1 671.6 L 1612.7 669.4 L 1613.5 667.2 L 1614.3 665.1 L 1615.3 663.1 L 1616.3 661.1 L 1617.5 659.2 L 1618.7 657.3 L 1620.0 655.6 L 1621.4 653.9 L 1622.9 652.3 L 1624.4 650.9 L 1626.0 649.5 L 1627.7 648.3 L 1629.4 647.2 L 1631.1 646.2 L 1632.9 645.3 L 1634.7 644.6 L 1636.5 643.9" fill="none" stroke="#333" stroke-width="4.2"/>
<path d="M 1610.5 683.8 L 1610.5 681.7 L 1610.7 679.5 L 1610.9 677.3 L 1611.3 675.2 L 1611.7 673.1 L 1612.2 671.0 L 1612.9 668.9 L 1613.6 666.8 L 1614.5 664.8 L 1615.4 662.9 L 1616.4 661.0 L 1617.5 659.2 L 1618.7 657.4 L 1619.9 655.7 L 1621.2 654.1 L 1622.6 652.6 L 1624.1 651.2 L 1625.6 649.9 L 1627.1 648.7 L 1628.7 647.6 L 1630.4 646.6 L 1632.0 645.7 L 1633.7 644.9 L 1635.5 644.3" fill="none" stroke="#fcfcfc" stroke-width="2.2"/>
<path d="M 1615.6 690.4 L 1615.2 687.9 L 1615.0 685.2 L 1615.0 682.6 L 1615.2 679.9 L 1615.5 677.2 L 1616.0 674.5 L 1616.6 671.9 L 1617.4 669.3 L 1618.4 666.8 L 1619.5 664.3 L 1620.8 662.0 L 1622.2 659.7 L 1623.7 657.6 L 1625.3 655.7 L 1627.1 653.9 L 1628.9 652.2 L 1630.9 650.7 L 1632.9 649.4 L 1634.9 648.3 L 1637.0 647.4 L 1639.2 646.7 L 1641.3 646.2 L 1643.5 646.0 L 1645.6 645.9" fill="none" stroke="#999" stroke-width="0.9"/>
</g>
<g id="centerright" fill="none" stroke="#1a1a1a" stroke-linejoin="round" stroke-linecap="round">
<path d="M 1289.5 734.5 L 1375.5 672.5" stroke="#1a1a1a" stroke-width="22"/>
<path d="M 1289.5 734.5 L 1375.5 672.5" stroke="#fcfcfc" stroke-width="19.2"/>
<path d="M 1289.5 731.5 L 1375.5 669.5" stroke="#1a1a1a" stroke-width="21.5"/>
<path d="M 1289.5 731.5 L 1375.5 669.5" stroke="#fcfcfc" stroke-width="14.5"/>
<path d="M 1289.5 731.5 L 1375.5 669.5" stroke="#1a1a1a" stroke-width="13"/>
<path d="M 1289.5 731.5 L 1375.5 669.5" stroke="#fcfcfc" stroke-width="11.6"/>
<path d="M 962 706 Q 960 712 964 717 Q 970 721 976 717 Q 980 712 978 705 L 980 699 L 976 697 L 974 703 L 969 699 L 967 705 L 965 700 L 962 701 Z" fill="#fcfcfc" stroke="#999" stroke-width="1"/>
<path d="M 966 707 Q 967 714 972 713 Q 975 711 974 706" stroke="#aaa" stroke-width="0.9"/>
<ellipse cx="1023" cy="738.7" rx="6" ry="7.6" transform="rotate(35 1023 738.7)" fill="#fcfcfc" stroke-width="2.2"/>
<ellipse cx="1023.3" cy="738.8" rx="2.8" ry="4.2" transform="rotate(35 1023.3 738.8)" stroke-width="1.2"/>
<ellipse cx="1049.0" cy="751.0" rx="10.5" ry="14" transform="rotate(-20 1049.0 751.0)" fill="none" stroke="#1a1a1a" stroke-width="1.8"/>
<ellipse cx="1050.5" cy="751.6" rx="10.5" ry="14" transform="rotate(-20 1050.5 751.6)" fill="none" stroke="#1a1a1a" stroke-width="1.8"/>
<ellipse cx="1052.0" cy="752.2" rx="10.5" ry="14" transform="rotate(-20 1052.0 752.2)" fill="none" stroke="#1a1a1a" stroke-width="1.8"/>
<ellipse cx="1053.5" cy="752.9" rx="10.5" ry="14" transform="rotate(-20 1053.5 752.9)" fill="none" stroke="#1a1a1a" stroke-width="1.8"/>
<ellipse cx="1055.0" cy="753.5" rx="10.5" ry="14" transform="rotate(-20 1055.0 753.5)" fill="none" stroke="#1a1a1a" stroke-width="1.8"/>
<ellipse cx="1056.5" cy="754.1" rx="10.5" ry="14" transform="rotate(-20 1056.5 754.1)" fill="none" stroke="#1a1a1a" stroke-width="1.8"/>
<ellipse cx="1058.0" cy="754.8" rx="10.5" ry="14" transform="rotate(-20 1058.0 754.8)" fill="none" stroke="#1a1a1a" stroke-width="1.8"/>
<ellipse cx="1059.5" cy="755.4" rx="10.5" ry="14" transform="rotate(-20 1059.5 755.4)" fill="none" stroke="#1a1a1a" stroke-width="1.8"/>
<ellipse cx="1061.0" cy="756.0" rx="10.5" ry="14" transform="rotate(-20 1061.0 756.0)" fill="none" stroke="#1a1a1a" stroke-width="1.8"/>
<ellipse cx="1049.0" cy="751.0" rx="10.5" ry="14" transform="rotate(-20 1049.0 751.0)" fill="#fcfcfc" stroke="none"/>
<ellipse cx="1050.5" cy="751.6" rx="10.5" ry="14" transform="rotate(-20 1050.5 751.6)" fill="#fcfcfc" stroke="none"/>
<ellipse cx="1052.0" cy="752.2" rx="10.5" ry="14" transform="rotate(-20 1052.0 752.2)" fill="#fcfcfc" stroke="none"/>
<ellipse cx="1053.5" cy="752.9" rx="10.5" ry="14" transform="rotate(-20 1053.5 752.9)" fill="#fcfcfc" stroke="none"/>
<ellipse cx="1055.0" cy="753.5" rx="10.5" ry="14" transform="rotate(-20 1055.0 753.5)" fill="#fcfcfc" stroke="none"/>
<ellipse cx="1056.5" cy="754.1" rx="10.5" ry="14" transform="rotate(-20 1056.5 754.1)" fill="#fcfcfc" stroke="none"/>
<ellipse cx="1058.0" cy="754.8" rx="10.5" ry="14" transform="rotate(-20 1058.0 754.8)" fill="#fcfcfc" stroke="none"/>
<ellipse cx="1059.5" cy="755.4" rx="10.5" ry="14" transform="rotate(-20 1059.5 755.4)" fill="#fcfcfc" stroke="none"/>
<ellipse cx="1061.0" cy="756.0" rx="10.5" ry="14" transform="rotate(-20 1061.0 756.0)" fill="#fcfcfc" stroke="none"/>
<path d="M 1042.3 741.0 L 1046.0 742.5" stroke-width="2.6"/>
<path d="M 1041.7 744.8 L 1046.0 746.3" stroke-width="2.6"/>
<path d="M 1041.1 748.6 L 1046.0 750.1" stroke-width="2.6"/>
<path d="M 1040.5 752.4 L 1046.0 753.9" stroke-width="2.6"/>
<path d="M 1041.1 756.2 L 1046.0 757.7" stroke-width="2.6"/>
<path d="M 1041.7 760.0 L 1046.0 761.5" stroke-width="2.6"/>
<path d="M 1042.3 763.8 L 1046.0 765.3" stroke-width="2.6"/>
<ellipse cx="1061.5" cy="756" rx="10" ry="13.5" transform="rotate(-20 1061.5 756)" fill="#fcfcfc" stroke-width="1.8"/>
<ellipse cx="1062" cy="756.5" rx="3" ry="4" transform="rotate(-20 1062 756.5)" stroke-width="1.6"/>
<ellipse cx="1086.0" cy="766.0" rx="10" ry="13.5" transform="rotate(-20 1086.0 766.0)" fill="none" stroke="#1a1a1a" stroke-width="2"/>
<ellipse cx="1087.3" cy="766.6" rx="10" ry="13.5" transform="rotate(-20 1087.3 766.6)" fill="none" stroke="#1a1a1a" stroke-width="2"/>
<ellipse cx="1088.7" cy="767.2" rx="10" ry="13.5" transform="rotate(-20 1088.7 767.2)" fill="none" stroke="#1a1a1a" stroke-width="2"/>
<ellipse cx="1090.0" cy="767.8" rx="10" ry="13.5" transform="rotate(-20 1090.0 767.8)" fill="none" stroke="#1a1a1a" stroke-width="2"/>
<ellipse cx="1091.3" cy="768.3" rx="10" ry="13.5" transform="rotate(-20 1091.3 768.3)" fill="none" stroke="#1a1a1a" stroke-width="2"/>
<ellipse cx="1092.7" cy="768.9" rx="10" ry="13.5" transform="rotate(-20 1092.7 768.9)" fill="none" stroke="#1a1a1a" stroke-width="2"/>
<ellipse cx="1094.0" cy="769.5" rx="10" ry="13.5" transform="rotate(-20 1094.0 769.5)" fill="none" stroke="#1a1a1a" stroke-width="2"/>
<ellipse cx="1086.0" cy="766.0" rx="10" ry="13.5" transform="rotate(-20 1086.0 766.0)" fill="#fcfcfc" stroke="none"/>
<ellipse cx="1087.3" cy="766.6" rx="10" ry="13.5" transform="rotate(-20 1087.3 766.6)" fill="#fcfcfc" stroke="none"/>
<ellipse cx="1088.7" cy="767.2" rx="10" ry="13.5" transform="rotate(-20 1088.7 767.2)" fill="#fcfcfc" stroke="none"/>
<ellipse cx="1090.0" cy="767.8" rx="10" ry="13.5" transform="rotate(-20 1090.0 767.8)" fill="#fcfcfc" stroke="none"/>
<ellipse cx="1091.3" cy="768.3" rx="10" ry="13.5" transform="rotate(-20 1091.3 768.3)" fill="#fcfcfc" stroke="none"/>
<ellipse cx="1092.7" cy="768.9" rx="10" ry="13.5" transform="rotate(-20 1092.7 768.9)" fill="#fcfcfc" stroke="none"/>
<ellipse cx="1094.0" cy="769.5" rx="10" ry="13.5" transform="rotate(-20 1094.0 769.5)" fill="#fcfcfc" stroke="none"/>
<ellipse cx="1086" cy="766" rx="9.5" ry="13" transform="rotate(-20 1086 766)" fill="#1a1a1a" stroke="none"/>
<ellipse cx="1088.5" cy="767" rx="8" ry="11.5" transform="rotate(-20 1088.5 767)" stroke="#666" stroke-width="1"/>
<ellipse cx="1097" cy="770.5" rx="6.5" ry="8.5" transform="rotate(-20 1097 770.5)" fill="#fcfcfc" stroke-width="1.8"/>
<ellipse cx="1097.5" cy="771" rx="3.5" ry="4.5" transform="rotate(-20 1097.5 771)" stroke-width="1.5"/>
<ellipse cx="1148" cy="797.5" rx="12" ry="15.5" transform="rotate(28 1148 797.5)" fill="#fcfcfc" stroke-width="2.8"/>
<ellipse cx="1149" cy="797.5" rx="9" ry="12" transform="rotate(28 1149 797.5)" stroke-width="1"/>
<ellipse cx="1150" cy="797" rx="5" ry="7.5" transform="rotate(28 1150 797)" stroke-width="2"/>
<ellipse cx="1150.5" cy="797" rx="2.8" ry="5" transform="rotate(28 1150.5 797)" stroke-width="1"/>
<path d="M 1179.3 709.3 L 1182 708.2 L 1202.4 721.9 L 1201.8 729.6 L 1199 730.7 L 1178.7 717 Z" fill="#fcfcfc" stroke-width="1.9"/>
<path d="M 1182 708.2 L 1181 715.5 L 1201.5 729" stroke="#888" stroke-width="0.9"/>
<path d="M 1174 731 L 1196 742" stroke="#888" stroke-width="13"/>
<path d="M 1174 731 L 1196 742" stroke="#d0d0d0" stroke-width="11"/>
<path d="M 1175 733 L 1195 743 M 1177 728 L 1193 736" stroke="#eee" stroke-width="1.2" stroke-dasharray="2 1.5"/>
<ellipse cx="1196" cy="742" rx="4" ry="6.2" transform="rotate(27 1196 742)" fill="#e4e4e4" stroke="#999" stroke-width="1"/>
<path d="M 1180.4 750 L 1180.4 776.9 L 1200.7 786.8 L 1201.3 816.5" stroke="#aaa" stroke-width="1.1" stroke-dasharray="1.5 3.5"/>
<path d="M 1187 810 L 1305 866" stroke="#1a1a1a" stroke-width="13.5"/>
<path d="M 1187 810 L 1305 866" stroke="#fcfcfc" stroke-width="9.5"/>
<path d="M 1192 816 L 1300 867" stroke="#aaa" stroke-width="1"/>
<ellipse cx="1187" cy="810" rx="5.5" ry="7" transform="rotate(25 1187 810)" fill="#fcfcfc" stroke-width="2"/>
<path d="M 1189.5 805 Q 1186 810 1189.5 816.5 M 1192 806 Q 1189 811 1192 817.5" stroke-width="1.3"/>
<path d="M 1275.7 850 L 1275.7 780 L 1431.5 780 L 1431.5 921 L 1300 921" stroke="#aaa" stroke-width="1.2" stroke-dasharray="1.2 5"/>
<path d="M 1388.2 869.4 L 1388.2 899.6 M 1389 870 L 1458 901.4 L 1458 892" stroke="#aaa" stroke-width="1.1" stroke-dasharray="1.5 4"/>
<ellipse cx="1315.8" cy="828.0" rx="18" ry="9" transform="rotate(0 1315.8 828.0)" fill="none" stroke="#999" stroke-width="1.5"/>
<ellipse cx="1315.8" cy="829.1" rx="18" ry="9" transform="rotate(0 1315.8 829.1)" fill="none" stroke="#999" stroke-width="1.5"/>
<ellipse cx="1315.8" cy="830.2" rx="18" ry="9" transform="rotate(0 1315.8 830.2)" fill="none" stroke="#999" stroke-width="1.5"/>
<ellipse cx="1315.8" cy="831.2" rx="18" ry="9" transform="rotate(0 1315.8 831.2)" fill="none" stroke="#999" stroke-width="1.5"/>
<ellipse cx="1315.8" cy="832.3" rx="18" ry="9" transform="rotate(0 1315.8 832.3)" fill="none" stroke="#999" stroke-width="1.5"/>
<ellipse cx="1315.8" cy="833.4" rx="18" ry="9" transform="rotate(0 1315.8 833.4)" fill="none" stroke="#999" stroke-width="1.5"/>
<ellipse cx="1315.8" cy="834.5" rx="18" ry="9" transform="rotate(0 1315.8 834.5)" fill="none" stroke="#999" stroke-width="1.5"/>
<ellipse cx="1315.8" cy="828.0" rx="18" ry="9" transform="rotate(0 1315.8 828.0)" fill="#fcfcfc" stroke="none"/>
<ellipse cx="1315.8" cy="829.1" rx="18" ry="9" transform="rotate(0 1315.8 829.1)" fill="#fcfcfc" stroke="none"/>
<ellipse cx="1315.8" cy="830.2" rx="18" ry="9" transform="rotate(0 1315.8 830.2)" fill="#fcfcfc" stroke="none"/>
<ellipse cx="1315.8" cy="831.2" rx="18" ry="9" transform="rotate(0 1315.8 831.2)" fill="#fcfcfc" stroke="none"/>
<ellipse cx="1315.8" cy="832.3" rx="18" ry="9" transform="rotate(0 1315.8 832.3)" fill="#fcfcfc" stroke="none"/>
<ellipse cx="1315.8" cy="833.4" rx="18" ry="9" transform="rotate(0 1315.8 833.4)" fill="#fcfcfc" stroke="none"/>
<ellipse cx="1315.8" cy="834.5" rx="18" ry="9" transform="rotate(0 1315.8 834.5)" fill="#fcfcfc" stroke="none"/>
<path d="M 1298 830 Q 1316 846 1334 830 L 1334 834 Q 1316 850 1298 834 Z" fill="#1a1a1a" stroke="none"/>
<ellipse cx="1315.8" cy="828" rx="18" ry="9" fill="#f4f4f4" stroke="#999" stroke-width="1.1"/>
<ellipse cx="1315.8" cy="827.5" rx="7" ry="3.8" stroke="#999" stroke-width="1"/>
<path d="M 1308 824 L 1316 831 L 1324 824" stroke="#888" stroke-width="1"/>
<path d="M 1342.5 840.5 L 1350 845" stroke-width="7.5"/>
<path d="M 1342.5 840.5 L 1350 845" stroke="#fcfcfc" stroke-width="4.5"/>
<ellipse cx="1350.5" cy="845" rx="2.3" ry="3.3" transform="rotate(30 1350.5 845)" fill="#fcfcfc" stroke-width="1.2"/>
<path d="M 1358 893 L 1392 909" stroke="#1a1a1a" stroke-width="10"/>
<path d="M 1358 893 L 1392 909" stroke="#fcfcfc" stroke-width="6.2"/>
<path d="M 1362 898 L 1390 911" stroke="#1a1a1a" stroke-width="2.4"/>
<ellipse cx="1392.5" cy="909" rx="3.6" ry="5" transform="rotate(25 1392.5 909)" fill="#fcfcfc" stroke-width="1.8"/>
<path d="M 1305.2 886 L 1306.5 912.1 L 1322.8 919.7 L 1340.4 921.5 L 1353 912.1 L 1360.6 902.1 L 1362 890 Z" fill="#fcfcfc" stroke-width="2"/>
<path d="M 1336 905 L 1343 905 L 1343 915 L 1336 915 Z" fill="#1a1a1a" stroke="none"/>
<path d="M 1352 893 L 1352 912 M 1356 896 Q 1362 896 1363 903" stroke-width="1.3"/>
<path d="M 1305 880 L 1307.7 865.6 L 1312 858 L 1353 865.6 L 1368 874.4 L 1365.6 894.5 L 1340.4 900.8 L 1305.2 886 Z" fill="#fcfcfc" stroke-width="2"/>
<path d="M 1307.7 872 L 1340.4 886 L 1366 880 M 1340.4 886 L 1340.4 900.8" stroke-width="1.6"/>
<path d="M 1306 877 L 1340 891 L 1366 885" stroke-width="1.1"/>
<path d="M 1327 862 L 1358 870 L 1362 876 L 1344 883 L 1336 875 Z" fill="#fcfcfc" stroke-width="1.6"/>
<ellipse cx="1330" cy="880" rx="3.5" ry="2.5" fill="#fcfcfc" stroke-width="1.4"/>
<ellipse cx="1344" cy="879" rx="3" ry="2.2" fill="#fcfcfc" stroke-width="1.4"/>
<ellipse cx="1313" cy="874" rx="7" ry="4.5" fill="#fcfcfc" stroke-width="1.6"/>
<path d="M 1294 860 L 1300 857 L 1304 862 L 1304 884 L 1299 887 L 1294 884 Z" fill="#fcfcfc" stroke-width="1.8"/>
<path d="M 1296 866 L 1302 866 M 1296 872 L 1302 872 M 1296 878 L 1302 878" stroke-width="1.6"/>
<path d="M 1320 850 L 1353 867" stroke-width="5"/>
<path d="M 1321 852 L 1350 867" stroke="#fcfcfc" stroke-width="1.5"/>
<path d="M 1313.8 851 L 1313.8 872" stroke-width="7.5"/>
<path d="M 1313.8 851 L 1313.8 872" stroke="#fcfcfc" stroke-width="4.2"/>
<ellipse cx="1313.8" cy="851" rx="3.8" ry="2.2" fill="#fcfcfc" stroke-width="1.5"/>
<ellipse cx="1364" cy="874" rx="2.5" ry="2" fill="#fcfcfc" stroke-width="1.4"/>
<path d="M 1364 876 L 1364 885" stroke-width="3"/>
<g stroke="#888" stroke-width="1">
<ellipse cx="1313.0" cy="929.0" rx="3.5" ry="6" transform="rotate(35 1313.0 929.0)"/>
<ellipse cx="1315.8" cy="927.2" rx="3.5" ry="6" transform="rotate(35 1315.8 927.2)"/>
<ellipse cx="1318.6" cy="925.4" rx="3.5" ry="6" transform="rotate(35 1318.6 925.4)"/>
<ellipse cx="1321.4" cy="923.6" rx="3.5" ry="6" transform="rotate(35 1321.4 923.6)"/>
<ellipse cx="1324.2" cy="921.8" rx="3.5" ry="6" transform="rotate(35 1324.2 921.8)"/>
<ellipse cx="1327.0" cy="920.0" rx="3.5" ry="6" transform="rotate(35 1327.0 920.0)"/>
<ellipse cx="1329.8" cy="918.2" rx="3.5" ry="6" transform="rotate(35 1329.8 918.2)"/>
<path d="M 1311 931 Q 1306 936 1309 939 Q 1313 939 1314 933"/>
</g>
<path d="M 1219.5 935.5 L 1231 922" stroke-width="4"/>
<path d="M 1231 922 L 1236 916.5" stroke-width="5.5"/>
<path d="M 1231.8 921 L 1235.2 917.5" stroke="#fcfcfc" stroke-width="2.5"/>
<path d="M 1236 916.5 L 1244 907" stroke="#555" stroke-width="1.2"/>
<path d="M 1238 914 L 1240 910 M 1241 911 L 1243 908" stroke="#555" stroke-width="1.2"/>
<path d="M 1244 907 L 1261 888" stroke-width="4"/>
<path d="M 1246 905 L 1260 889" stroke="#fcfcfc" stroke-width="1.5"/>
<path d="M 1259.5 886.5 L 1275 896.5" stroke-width="5"/>
<path d="M 1260.5 887.5 L 1274 896.3" stroke="#fcfcfc" stroke-width="2.2"/>
<path d="M 1451.7 851.5 L 1455 850 L 1476.3 864.2 L 1475.5 871.7 L 1472.5 872.5 L 1451 858 Z" fill="#fcfcfc" stroke-width="1.9"/>
<path d="M 1455 850 L 1454 857 L 1474.5 871" stroke="#888" stroke-width="0.9"/>
<path d="M 1447 874.5 L 1466 884.5" stroke="#999" stroke-width="13"/>
<path d="M 1447 874.5 L 1466 884.5" stroke="#d6d6d6" stroke-width="11"/>
<path d="M 1448 877 L 1465 886 M 1450 872 L 1464 879" stroke="#eee" stroke-width="1.2" stroke-dasharray="2 1.5"/>
<ellipse cx="1466" cy="884.5" rx="4" ry="6.2" transform="rotate(27 1466 884.5)" fill="#e4e4e4" stroke="#aaa" stroke-width="1"/>
<ellipse cx="1446.7" cy="937.5" rx="11.5" ry="15.5" transform="rotate(28 1446.7 937.5)" fill="#fcfcfc" stroke-width="2.8"/>
<ellipse cx="1447.5" cy="937.5" rx="8.5" ry="12" transform="rotate(28 1447.5 937.5)" stroke-width="1"/>
<ellipse cx="1448.5" cy="937" rx="4.5" ry="7.5" transform="rotate(28 1448.5 937)" stroke-width="2"/>
<ellipse cx="1449" cy="937" rx="2.5" ry="5" transform="rotate(28 1449 937)" stroke-width="1"/>
<ellipse cx="1483.5" cy="962.5" rx="9" ry="12.5" transform="rotate(-15 1483.5 962.5)" fill="none" stroke="#1a1a1a" stroke-width="2.6"/>
<ellipse cx="1485.2" cy="963.1" rx="9" ry="12.5" transform="rotate(-15 1485.2 963.1)" fill="none" stroke="#1a1a1a" stroke-width="2.6"/>
<ellipse cx="1487.0" cy="963.7" rx="9" ry="12.5" transform="rotate(-15 1487.0 963.7)" fill="none" stroke="#1a1a1a" stroke-width="2.6"/>
<ellipse cx="1488.8" cy="964.2" rx="9" ry="12.5" transform="rotate(-15 1488.8 964.2)" fill="none" stroke="#1a1a1a" stroke-width="2.6"/>
<ellipse cx="1490.5" cy="964.8" rx="9" ry="12.5" transform="rotate(-15 1490.5 964.8)" fill="none" stroke="#1a1a1a" stroke-width="2.6"/>
<ellipse cx="1492.2" cy="965.4" rx="9" ry="12.5" transform="rotate(-15 1492.2 965.4)" fill="none" stroke="#1a1a1a" stroke-width="2.6"/>
<ellipse cx="1494.0" cy="966.0" rx="9" ry="12.5" transform="rotate(-15 1494.0 966.0)" fill="none" stroke="#1a1a1a" stroke-width="2.6"/>
<ellipse cx="1483.5" cy="962.5" rx="9" ry="12.5" transform="rotate(-15 1483.5 962.5)" fill="#1a1a1a" stroke="none"/>
<ellipse cx="1485.2" cy="963.1" rx="9" ry="12.5" transform="rotate(-15 1485.2 963.1)" fill="#1a1a1a" stroke="none"/>
<ellipse cx="1487.0" cy="963.7" rx="9" ry="12.5" transform="rotate(-15 1487.0 963.7)" fill="#1a1a1a" stroke="none"/>
<ellipse cx="1488.8" cy="964.2" rx="9" ry="12.5" transform="rotate(-15 1488.8 964.2)" fill="#1a1a1a" stroke="none"/>
<ellipse cx="1490.5" cy="964.8" rx="9" ry="12.5" transform="rotate(-15 1490.5 964.8)" fill="#1a1a1a" stroke="none"/>
<ellipse cx="1492.2" cy="965.4" rx="9" ry="12.5" transform="rotate(-15 1492.2 965.4)" fill="#1a1a1a" stroke="none"/>
<ellipse cx="1494.0" cy="966.0" rx="9" ry="12.5" transform="rotate(-15 1494.0 966.0)" fill="#1a1a1a" stroke="none"/>
<path d="M 1488.2 975.8 L 1487.1 975.7 L 1486.0 975.5 L 1485.0 975.1 L 1483.9 974.6 L 1482.9 973.9 L 1481.9 973.0 L 1481.0 972.1 L 1480.2 971.0 L 1479.4 969.8 L 1478.8 968.6 L 1478.2 967.2 L 1477.8 965.8 L 1477.5 964.4 L 1477.3 963.0 L 1477.2 961.6 L 1477.3 960.2 L 1477.5 958.8 L 1477.8 957.5 L 1478.2 956.3 L 1478.7 955.2 L 1479.4 954.2 L 1480.1 953.3 L 1480.9 952.6 L 1481.8 952.0" fill="none" stroke="#fcfcfc" stroke-width="1.3"/>
<path d="M 1490.7 976.8 L 1489.6 976.7 L 1488.5 976.5 L 1487.5 976.1 L 1486.4 975.6 L 1485.4 974.9 L 1484.4 974.0 L 1483.5 973.1 L 1482.7 972.0 L 1481.9 970.8 L 1481.3 969.6 L 1480.7 968.2 L 1480.3 966.8 L 1480.0 965.4 L 1479.8 964.0 L 1479.7 962.6 L 1479.8 961.2 L 1480.0 959.8 L 1480.3 958.5 L 1480.7 957.3 L 1481.2 956.2 L 1481.9 955.2 L 1482.6 954.3 L 1483.4 953.6 L 1484.3 953.0" fill="none" stroke="#fcfcfc" stroke-width="1.0"/>
<ellipse cx="1494" cy="966" rx="7.5" ry="10.5" transform="rotate(-15 1494 966)" fill="#fcfcfc" stroke="#1a1a1a" stroke-width="2"/>
<ellipse cx="1494.5" cy="966" rx="5" ry="7.5" transform="rotate(-15 1494.5 966)" stroke-width="1.6"/>
<ellipse cx="1494.8" cy="966" rx="2.5" ry="4.5" transform="rotate(-15 1494.8 966)" stroke-width="1.2"/>
<ellipse cx="1508.0" cy="975.0" rx="10" ry="14" transform="rotate(-25 1508.0 975.0)" fill="none" stroke="#1a1a1a" stroke-width="2.2"/>
<ellipse cx="1509.2" cy="975.7" rx="10" ry="14" transform="rotate(-25 1509.2 975.7)" fill="none" stroke="#1a1a1a" stroke-width="2.2"/>
<ellipse cx="1510.5" cy="976.4" rx="10" ry="14" transform="rotate(-25 1510.5 976.4)" fill="none" stroke="#1a1a1a" stroke-width="2.2"/>
<ellipse cx="1511.8" cy="977.1" rx="10" ry="14" transform="rotate(-25 1511.8 977.1)" fill="none" stroke="#1a1a1a" stroke-width="2.2"/>
<ellipse cx="1513.0" cy="977.8" rx="10" ry="14" transform="rotate(-25 1513.0 977.8)" fill="none" stroke="#1a1a1a" stroke-width="2.2"/>
<ellipse cx="1514.2" cy="978.4" rx="10" ry="14" transform="rotate(-25 1514.2 978.4)" fill="none" stroke="#1a1a1a" stroke-width="2.2"/>
<ellipse cx="1515.5" cy="979.1" rx="10" ry="14" transform="rotate(-25 1515.5 979.1)" fill="none" stroke="#1a1a1a" stroke-width="2.2"/>
<ellipse cx="1516.8" cy="979.8" rx="10" ry="14" transform="rotate(-25 1516.8 979.8)" fill="none" stroke="#1a1a1a" stroke-width="2.2"/>
<ellipse cx="1518.0" cy="980.5" rx="10" ry="14" transform="rotate(-25 1518.0 980.5)" fill="none" stroke="#1a1a1a" stroke-width="2.2"/>
<ellipse cx="1508.0" cy="975.0" rx="10" ry="14" transform="rotate(-25 1508.0 975.0)" fill="#fcfcfc" stroke="none"/>
<ellipse cx="1509.2" cy="975.7" rx="10" ry="14" transform="rotate(-25 1509.2 975.7)" fill="#fcfcfc" stroke="none"/>
<ellipse cx="1510.5" cy="976.4" rx="10" ry="14" transform="rotate(-25 1510.5 976.4)" fill="#fcfcfc" stroke="none"/>
<ellipse cx="1511.8" cy="977.1" rx="10" ry="14" transform="rotate(-25 1511.8 977.1)" fill="#fcfcfc" stroke="none"/>
<ellipse cx="1513.0" cy="977.8" rx="10" ry="14" transform="rotate(-25 1513.0 977.8)" fill="#fcfcfc" stroke="none"/>
<ellipse cx="1514.2" cy="978.4" rx="10" ry="14" transform="rotate(-25 1514.2 978.4)" fill="#fcfcfc" stroke="none"/>
<ellipse cx="1515.5" cy="979.1" rx="10" ry="14" transform="rotate(-25 1515.5 979.1)" fill="#fcfcfc" stroke="none"/>
<ellipse cx="1516.8" cy="979.8" rx="10" ry="14" transform="rotate(-25 1516.8 979.8)" fill="#fcfcfc" stroke="none"/>
<ellipse cx="1518.0" cy="980.5" rx="10" ry="14" transform="rotate(-25 1518.0 980.5)" fill="#fcfcfc" stroke="none"/>
<path d="M 1508.6 988.1 L 1507.6 987.8 L 1506.6 987.4 L 1505.5 986.8 L 1504.6 986.2 L 1503.6 985.4 L 1502.7 984.6 L 1501.8 983.7 L 1501.0 982.7 L 1500.3 981.6 L 1499.6 980.5 L 1499.0 979.3 L 1498.5 978.1 L 1498.0 976.9 L 1497.7 975.6 L 1497.4 974.3 L 1497.2 973.1 L 1497.2 971.8 L 1497.2 970.6 L 1497.3 969.5 L 1497.6 968.3 L 1497.9 967.3 L 1498.3 966.3 L 1498.8 965.4 L 1499.3 964.5" fill="none" stroke="#1a1a1a" stroke-width="4.5"/>
<path d="M 1513 977 L 1521 981 M 1512 982 L 1520 986 M 1511 987 L 1519 991 M 1516 972 L 1523 976" stroke-width="2.4"/>
<path d="M 1535.3 986.5 L 1532.7 988.6 L 1534.1 992.0 L 1531.0 992.2 L 1530.9 996.0 L 1528.2 994.2 L 1526.5 997.5 L 1524.8 994.2 L 1522.1 996.0 L 1522.0 992.2 L 1518.9 992.0 L 1520.3 988.6 L 1517.7 986.5 L 1520.3 984.4 L 1518.9 981.0 L 1522.0 980.8 L 1522.1 977.0 L 1524.8 978.8 L 1526.5 975.5 L 1528.2 978.8 L 1530.9 977.0 L 1531.0 980.8 L 1534.1 981.0 L 1532.7 984.4 Z" fill="#fcfcfc" stroke="#1a1a1a" stroke-width="1.8"/>
<ellipse cx="1526.5" cy="986.5" rx="2.8" ry="4" transform="rotate(20 1526.5 986.5)" fill="#fcfcfc" stroke-width="1.8"/>
<ellipse cx="1543" cy="995.8" rx="6" ry="7.6" transform="rotate(35 1543 995.8)" fill="#fcfcfc" stroke-width="2.2"/>
<ellipse cx="1543.3" cy="995.9" rx="2.8" ry="4.2" transform="rotate(35 1543.3 995.9)" stroke-width="1.2"/>
<path d="M 1588 1022 Q 1587 1028 1590 1032 Q 1595 1035 1600 1031 Q 1603 1026 1601 1020 L 1602.5 1016 L 1599 1015 L 1597.5 1019 L 1593 1016 L 1591.5 1021 L 1589.5 1017 L 1587 1018 Z" fill="#fcfcfc" stroke="#999" stroke-width="1"/>
</g>
<g id="logo" font-family="Liberation Serif, serif">
 <text transform="translate(1640.5 1257) scale(1.13 1)" font-size="35"><tspan fill="#4a6cc0">m</tspan><tspan fill="#55b040">o</tspan><tspan fill="#ee6fb2">t</tspan><tspan fill="#1fa23e">o</tspan><tspan fill="#f2521e">r</tspan><tspan fill="#f6a01c">u</tspan><tspan fill="#f5d21c">f</tspan></text>
 <text x="1769" y="1257" font-size="17.5" fill="#333">.de</text>
 <circle cx="1773.5" cy="1232" r="0.9" fill="#555"/>
</g>

<g font-family="Liberation Sans, sans-serif" font-size="19.1" fill="#333" style="filter:grayscale(1)">
<text x="715.9" y="321.5" textLength="64.8" lengthAdjust="spacingAndGlyphs">52700701</text>
<text x="533.3" y="335.8" textLength="73.0" lengthAdjust="spacingAndGlyphs">701494 (2)</text>
<text x="507.8" y="444.7" textLength="50.2" lengthAdjust="spacingAndGlyphs">517103</text>
<text x="610.3" y="521.7" textLength="72.7" lengthAdjust="spacingAndGlyphs">700138 (2)</text>
<text x="644.5" y="569.2" textLength="89.3" lengthAdjust="spacingAndGlyphs">54467501 (2)</text>
<text x="586.2" y="613.3" textLength="73.5" lengthAdjust="spacingAndGlyphs">518098 (2)</text>
<text x="637.5" y="643.7" textLength="72.7" lengthAdjust="spacingAndGlyphs">526611 (6)</text>
<text x="602.8" y="677.0" textLength="72.7" lengthAdjust="spacingAndGlyphs">548406 (2)</text>
<text x="598.7" y="710.8" textLength="71.8" lengthAdjust="spacingAndGlyphs">373264 (4)</text>
<text x="688.7" y="733.3" textLength="50.1" lengthAdjust="spacingAndGlyphs">700559</text>
<text x="512.0" y="765.8" textLength="66.5" lengthAdjust="spacingAndGlyphs">54839730</text>
<text x="736.0" y="774.5" textLength="49.3" lengthAdjust="spacingAndGlyphs">700138</text>
<text x="764.3" y="791.6" textLength="48.2" lengthAdjust="spacingAndGlyphs">700121</text>
<text x="99.3" y="704.4" textLength="66.5" lengthAdjust="spacingAndGlyphs">52775402</text>
<text x="389.8" y="742.7" textLength="72.9" lengthAdjust="spacingAndGlyphs">527617 (2)</text>
<text x="411.0" y="771.2" textLength="72.5" lengthAdjust="spacingAndGlyphs">527618 (2)</text>
<text x="422.1" y="798.3" textLength="72.6" lengthAdjust="spacingAndGlyphs">526611 (2)</text>
<text x="110.2" y="845.7" textLength="73.1" lengthAdjust="spacingAndGlyphs">344728 (2)</text>
<text x="148.0" y="915.3" textLength="73.7" lengthAdjust="spacingAndGlyphs">500073 (1)</text>
<text x="394.3" y="899.1" textLength="66.6" lengthAdjust="spacingAndGlyphs">52753730</text>
<text x="426.5" y="925.1" textLength="49.5" lengthAdjust="spacingAndGlyphs">704272</text>
<text x="594.1" y="904.6" textLength="49.9" lengthAdjust="spacingAndGlyphs">543474</text>
<text x="703.8" y="901.3" textLength="48.1" lengthAdjust="spacingAndGlyphs">529071</text>
<text x="683.1" y="995.8" textLength="66.2" lengthAdjust="spacingAndGlyphs">54839330</text>
<text x="581.4" y="1022.0" textLength="72.6" lengthAdjust="spacingAndGlyphs">519554 (2)</text>
<text x="613.3" y="1051.8" textLength="72.2" lengthAdjust="spacingAndGlyphs">510923 (2)</text>
<text x="642.5" y="1084.5" textLength="74.0" lengthAdjust="spacingAndGlyphs">523599 (2)</text>
<text x="898.7" y="1085.7" textLength="73.1" lengthAdjust="spacingAndGlyphs">510923 (2)</text>
<text x="709.0" y="1131.2" textLength="71.7" lengthAdjust="spacingAndGlyphs">700138 (2)</text>
<text x="742.8" y="1156.8" textLength="72.9" lengthAdjust="spacingAndGlyphs">700121 (2)</text>
<text x="742.8" y="1193.0" textLength="89.7" lengthAdjust="spacingAndGlyphs">52360302 (2)</text>
<text x="870.0" y="1026.5" textLength="49.3" lengthAdjust="spacingAndGlyphs">510953</text>
<text x="862.6" y="902.5" textLength="64.9" lengthAdjust="spacingAndGlyphs">54837101</text>
<text x="850.9" y="953.9" textLength="49.7" lengthAdjust="spacingAndGlyphs">548389</text>
<text x="870.7" y="984.7" textLength="49.2" lengthAdjust="spacingAndGlyphs">527805</text>
<text x="1056.8" y="937.1" textLength="49.7" lengthAdjust="spacingAndGlyphs">530162</text>
<text x="1036.4" y="970.1" textLength="49.7" lengthAdjust="spacingAndGlyphs">530159</text>
<text x="1039.2" y="879.5" textLength="51.3" lengthAdjust="spacingAndGlyphs">527996</text>
<text x="984.5" y="848.0" textLength="51.8" lengthAdjust="spacingAndGlyphs">530375</text>
<text x="957.8" y="798.7" textLength="51.0" lengthAdjust="spacingAndGlyphs">531275</text>
<text x="932.0" y="779.2" textLength="51.5" lengthAdjust="spacingAndGlyphs">702387</text>
<text x="886.2" y="739.2" textLength="51.8" lengthAdjust="spacingAndGlyphs">700489</text>
<text x="1114.5" y="686.3" textLength="49.5" lengthAdjust="spacingAndGlyphs">704068</text>
<text x="1098.2" y="717.5" textLength="48.1" lengthAdjust="spacingAndGlyphs">513491</text>
<text x="1413.6" y="709.0" textLength="50.6" lengthAdjust="spacingAndGlyphs">506839</text>
<text x="1358.7" y="805.7" textLength="49.9" lengthAdjust="spacingAndGlyphs">522140</text>
<text x="1376.2" y="848.0" textLength="48.0" lengthAdjust="spacingAndGlyphs">700161</text>
<text x="1487.8" y="871.7" textLength="49.4" lengthAdjust="spacingAndGlyphs">704068</text>
<text x="1483.7" y="895.0" textLength="48.5" lengthAdjust="spacingAndGlyphs">513491</text>
<text x="1134.8" y="949.2" textLength="49.9" lengthAdjust="spacingAndGlyphs">527717</text>
<text x="1234.8" y="970.8" textLength="48.7" lengthAdjust="spacingAndGlyphs">308450</text>
<text x="1359.5" y="965.8" textLength="50.2" lengthAdjust="spacingAndGlyphs">527996</text>
<text x="1407.5" y="990.3" textLength="51.3" lengthAdjust="spacingAndGlyphs">530375</text>
<text x="1446.2" y="1033.3" textLength="51.8" lengthAdjust="spacingAndGlyphs">531275</text>
<text x="1470.0" y="1060.8" textLength="50.8" lengthAdjust="spacingAndGlyphs">702387</text>
<text x="1521.5" y="1100.3" textLength="52.0" lengthAdjust="spacingAndGlyphs">700489</text>
<text x="1360.4" y="422.3" textLength="72.6" lengthAdjust="spacingAndGlyphs">512423 (2)</text>
<text x="1406.0" y="455.0" textLength="72.6" lengthAdjust="spacingAndGlyphs">700407 (2)</text>
<text x="1453.6" y="482.3" textLength="71.8" lengthAdjust="spacingAndGlyphs">510923 (2)</text>
<text x="1508.7" y="511.7" textLength="72.6" lengthAdjust="spacingAndGlyphs">527845 (2)</text>
<text x="1555.3" y="542.0" textLength="73.2" lengthAdjust="spacingAndGlyphs">510923 (2)</text>
<text x="1589.5" y="578.3" textLength="72.3" lengthAdjust="spacingAndGlyphs">700138 (2)</text>
<text x="1617.0" y="606.7" textLength="72.7" lengthAdjust="spacingAndGlyphs">700121 (2)</text>
<text x="1667.0" y="632.0" textLength="89.3" lengthAdjust="spacingAndGlyphs">52360302 (2)</text>
<text x="1180.0" y="519.5" textLength="71.7" lengthAdjust="spacingAndGlyphs">701972 (2)</text>
<text x="1482.4" y="820.3" font-size="23.3" textLength="62.0" lengthAdjust="spacingAndGlyphs">527716</text>
</g>
</svg>
</body></html>
